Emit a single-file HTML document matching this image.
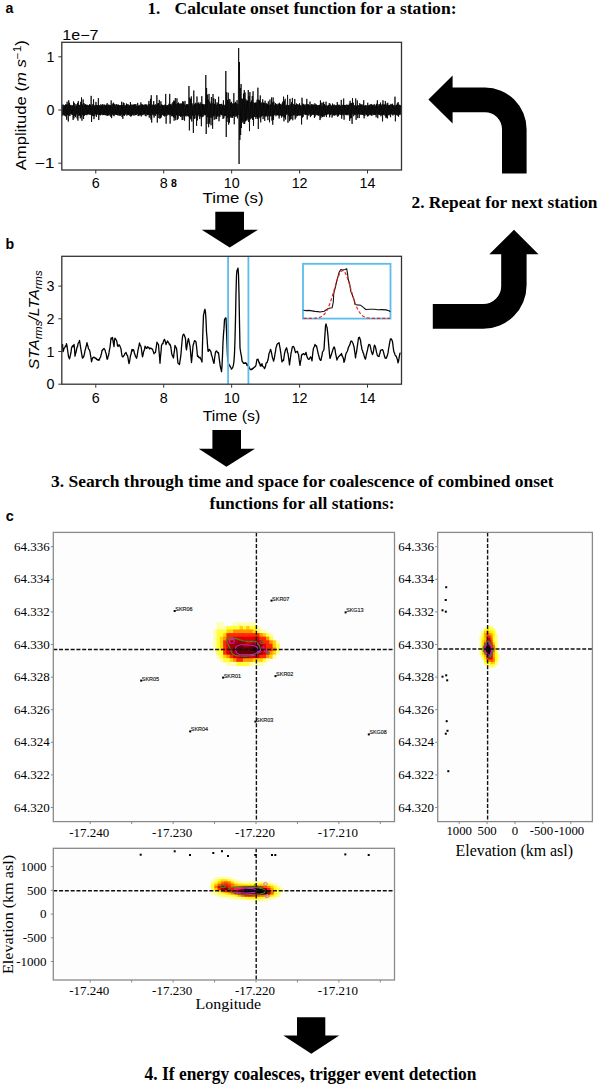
<!DOCTYPE html>
<html><head><meta charset="utf-8"><style>
html,body{margin:0;padding:0;background:#fff;width:600px;height:1086px;overflow:hidden}
svg{display:block}
</style></head><body>
<svg width="600" height="1086" viewBox="0 0 600 1086">
<rect width="600" height="1086" fill="#fff"/>
<rect x="53.3" y="532.4" width="341.2" height="289.20000000000005" fill="#fdfdfd"/>
<rect x="216.50" y="622.30" width="3.90" height="4.20" fill="#ffffb4"/>
<rect x="219.80" y="622.30" width="3.90" height="4.20" fill="#ffffb4"/>
<rect x="233.00" y="622.30" width="3.90" height="4.20" fill="#ffffb4"/>
<rect x="236.30" y="622.30" width="3.90" height="4.20" fill="#ffffb4"/>
<rect x="239.60" y="622.30" width="3.90" height="4.20" fill="#ffffb4"/>
<rect x="242.90" y="622.30" width="3.90" height="4.20" fill="#ffffb4"/>
<rect x="246.20" y="622.30" width="3.90" height="4.20" fill="#ffffb4"/>
<rect x="249.50" y="622.30" width="3.90" height="4.20" fill="#ffffb4"/>
<rect x="252.80" y="622.30" width="3.90" height="4.20" fill="#ffffb4"/>
<rect x="216.50" y="625.90" width="3.90" height="4.20" fill="#ffffb4"/>
<rect x="219.80" y="625.90" width="3.90" height="4.20" fill="#ffffb4"/>
<rect x="223.10" y="625.90" width="3.90" height="4.20" fill="#ffffb4"/>
<rect x="226.40" y="625.90" width="3.90" height="4.20" fill="#ffff3c"/>
<rect x="229.70" y="625.90" width="3.90" height="4.20" fill="#ffff3c"/>
<rect x="233.00" y="625.90" width="3.90" height="4.20" fill="#ffff3c"/>
<rect x="236.30" y="625.90" width="3.90" height="4.20" fill="#ffff3c"/>
<rect x="239.60" y="625.90" width="3.90" height="4.20" fill="#ffd200"/>
<rect x="242.90" y="625.90" width="3.90" height="4.20" fill="#ffff3c"/>
<rect x="246.20" y="625.90" width="3.90" height="4.20" fill="#ffd200"/>
<rect x="249.50" y="625.90" width="3.90" height="4.20" fill="#ffff3c"/>
<rect x="252.80" y="625.90" width="3.90" height="4.20" fill="#ffff3c"/>
<rect x="256.10" y="625.90" width="3.90" height="4.20" fill="#ffffb4"/>
<rect x="213.20" y="629.50" width="3.90" height="4.20" fill="#ffffb4"/>
<rect x="216.50" y="629.50" width="3.90" height="4.20" fill="#ffff3c"/>
<rect x="219.80" y="629.50" width="3.90" height="4.20" fill="#ffff3c"/>
<rect x="223.10" y="629.50" width="3.90" height="4.20" fill="#ffff3c"/>
<rect x="226.40" y="629.50" width="3.90" height="4.20" fill="#ffd200"/>
<rect x="229.70" y="629.50" width="3.90" height="4.20" fill="#ffd200"/>
<rect x="233.00" y="629.50" width="3.90" height="4.20" fill="#ff9400"/>
<rect x="236.30" y="629.50" width="3.90" height="4.20" fill="#ff9400"/>
<rect x="239.60" y="629.50" width="3.90" height="4.20" fill="#ff9400"/>
<rect x="242.90" y="629.50" width="3.90" height="4.20" fill="#ff9400"/>
<rect x="246.20" y="629.50" width="3.90" height="4.20" fill="#ff9400"/>
<rect x="249.50" y="629.50" width="3.90" height="4.20" fill="#ff9400"/>
<rect x="252.80" y="629.50" width="3.90" height="4.20" fill="#ffd200"/>
<rect x="256.10" y="629.50" width="3.90" height="4.20" fill="#ffff3c"/>
<rect x="259.40" y="629.50" width="3.90" height="4.20" fill="#ffffb4"/>
<rect x="262.70" y="629.50" width="3.90" height="4.20" fill="#ffffb4"/>
<rect x="213.20" y="633.10" width="3.90" height="4.20" fill="#ffffb4"/>
<rect x="216.50" y="633.10" width="3.90" height="4.20" fill="#ffff3c"/>
<rect x="219.80" y="633.10" width="3.90" height="4.20" fill="#ffff3c"/>
<rect x="223.10" y="633.10" width="3.90" height="4.20" fill="#ffd200"/>
<rect x="226.40" y="633.10" width="3.90" height="4.20" fill="#ff2a00"/>
<rect x="229.70" y="633.10" width="3.90" height="4.20" fill="#ff2a00"/>
<rect x="233.00" y="633.10" width="3.90" height="4.20" fill="#ff2a00"/>
<rect x="236.30" y="633.10" width="3.90" height="4.20" fill="#ff2a00"/>
<rect x="239.60" y="633.10" width="3.90" height="4.20" fill="#ff2a00"/>
<rect x="242.90" y="633.10" width="3.90" height="4.20" fill="#ff2a00"/>
<rect x="246.20" y="633.10" width="3.90" height="4.20" fill="#ff2a00"/>
<rect x="249.50" y="633.10" width="3.90" height="4.20" fill="#ff2a00"/>
<rect x="252.80" y="633.10" width="3.90" height="4.20" fill="#ff2a00"/>
<rect x="256.10" y="633.10" width="3.90" height="4.20" fill="#ff2a00"/>
<rect x="259.40" y="633.10" width="3.90" height="4.20" fill="#ff9400"/>
<rect x="262.70" y="633.10" width="3.90" height="4.20" fill="#ffd200"/>
<rect x="266.00" y="633.10" width="3.90" height="4.20" fill="#ffff3c"/>
<rect x="269.30" y="633.10" width="3.90" height="4.20" fill="#ffffb4"/>
<rect x="213.20" y="636.70" width="3.90" height="4.20" fill="#ffffb4"/>
<rect x="216.50" y="636.70" width="3.90" height="4.20" fill="#ffff3c"/>
<rect x="219.80" y="636.70" width="3.90" height="4.20" fill="#ffd200"/>
<rect x="223.10" y="636.70" width="3.90" height="4.20" fill="#ff9400"/>
<rect x="226.40" y="636.70" width="3.90" height="4.20" fill="#ff2a00"/>
<rect x="229.70" y="636.70" width="3.90" height="4.20" fill="#ff2a00"/>
<rect x="233.00" y="636.70" width="3.90" height="4.20" fill="#dc0000"/>
<rect x="236.30" y="636.70" width="3.90" height="4.20" fill="#dc0000"/>
<rect x="239.60" y="636.70" width="3.90" height="4.20" fill="#dc0000"/>
<rect x="242.90" y="636.70" width="3.90" height="4.20" fill="#dc0000"/>
<rect x="246.20" y="636.70" width="3.90" height="4.20" fill="#dc0000"/>
<rect x="249.50" y="636.70" width="3.90" height="4.20" fill="#dc0000"/>
<rect x="252.80" y="636.70" width="3.90" height="4.20" fill="#dc0000"/>
<rect x="256.10" y="636.70" width="3.90" height="4.20" fill="#dc0000"/>
<rect x="259.40" y="636.70" width="3.90" height="4.20" fill="#ff2a00"/>
<rect x="262.70" y="636.70" width="3.90" height="4.20" fill="#ff2a00"/>
<rect x="266.00" y="636.70" width="3.90" height="4.20" fill="#ff9400"/>
<rect x="269.30" y="636.70" width="3.90" height="4.20" fill="#ffff3c"/>
<rect x="213.20" y="640.30" width="3.90" height="4.20" fill="#ffffb4"/>
<rect x="216.50" y="640.30" width="3.90" height="4.20" fill="#ffff3c"/>
<rect x="219.80" y="640.30" width="3.90" height="4.20" fill="#ffd200"/>
<rect x="223.10" y="640.30" width="3.90" height="4.20" fill="#ff2a00"/>
<rect x="226.40" y="640.30" width="3.90" height="4.20" fill="#dc0000"/>
<rect x="229.70" y="640.30" width="3.90" height="4.20" fill="#a00000"/>
<rect x="233.00" y="640.30" width="3.90" height="4.20" fill="#a00000"/>
<rect x="236.30" y="640.30" width="3.90" height="4.20" fill="#a00000"/>
<rect x="239.60" y="640.30" width="3.90" height="4.20" fill="#a00000"/>
<rect x="242.90" y="640.30" width="3.90" height="4.20" fill="#a00000"/>
<rect x="246.20" y="640.30" width="3.90" height="4.20" fill="#dc0000"/>
<rect x="249.50" y="640.30" width="3.90" height="4.20" fill="#dc0000"/>
<rect x="252.80" y="640.30" width="3.90" height="4.20" fill="#a00000"/>
<rect x="256.10" y="640.30" width="3.90" height="4.20" fill="#a00000"/>
<rect x="259.40" y="640.30" width="3.90" height="4.20" fill="#dc0000"/>
<rect x="262.70" y="640.30" width="3.90" height="4.20" fill="#ff2a00"/>
<rect x="266.00" y="640.30" width="3.90" height="4.20" fill="#ff2a00"/>
<rect x="269.30" y="640.30" width="3.90" height="4.20" fill="#ff9400"/>
<rect x="272.60" y="640.30" width="3.90" height="4.20" fill="#ffd200"/>
<rect x="275.90" y="640.30" width="3.90" height="4.20" fill="#ffffb4"/>
<rect x="213.20" y="643.90" width="3.90" height="4.20" fill="#ffffb4"/>
<rect x="216.50" y="643.90" width="3.90" height="4.20" fill="#ffff3c"/>
<rect x="219.80" y="643.90" width="3.90" height="4.20" fill="#ffd200"/>
<rect x="223.10" y="643.90" width="3.90" height="4.20" fill="#ff2a00"/>
<rect x="226.40" y="643.90" width="3.90" height="4.20" fill="#dc0000"/>
<rect x="229.70" y="643.90" width="3.90" height="4.20" fill="#a00000"/>
<rect x="233.00" y="643.90" width="3.90" height="4.20" fill="#a00000"/>
<rect x="236.30" y="643.90" width="3.90" height="4.20" fill="#600000"/>
<rect x="239.60" y="643.90" width="3.90" height="4.20" fill="#600000"/>
<rect x="242.90" y="643.90" width="3.90" height="4.20" fill="#a00000"/>
<rect x="246.20" y="643.90" width="3.90" height="4.20" fill="#a00000"/>
<rect x="249.50" y="643.90" width="3.90" height="4.20" fill="#600000"/>
<rect x="252.80" y="643.90" width="3.90" height="4.20" fill="#600000"/>
<rect x="256.10" y="643.90" width="3.90" height="4.20" fill="#600000"/>
<rect x="259.40" y="643.90" width="3.90" height="4.20" fill="#a00000"/>
<rect x="262.70" y="643.90" width="3.90" height="4.20" fill="#dc0000"/>
<rect x="266.00" y="643.90" width="3.90" height="4.20" fill="#ff2a00"/>
<rect x="269.30" y="643.90" width="3.90" height="4.20" fill="#ff2a00"/>
<rect x="272.60" y="643.90" width="3.90" height="4.20" fill="#ffd200"/>
<rect x="275.90" y="643.90" width="3.90" height="4.20" fill="#ffff3c"/>
<rect x="213.20" y="647.50" width="3.90" height="4.20" fill="#ffffb4"/>
<rect x="216.50" y="647.50" width="3.90" height="4.20" fill="#ffff3c"/>
<rect x="219.80" y="647.50" width="3.90" height="4.20" fill="#ffd200"/>
<rect x="223.10" y="647.50" width="3.90" height="4.20" fill="#ff2a00"/>
<rect x="226.40" y="647.50" width="3.90" height="4.20" fill="#dc0000"/>
<rect x="229.70" y="647.50" width="3.90" height="4.20" fill="#a00000"/>
<rect x="233.00" y="647.50" width="3.90" height="4.20" fill="#600000"/>
<rect x="236.30" y="647.50" width="3.90" height="4.20" fill="#600000"/>
<rect x="239.60" y="647.50" width="3.90" height="4.20" fill="#600000"/>
<rect x="242.90" y="647.50" width="3.90" height="4.20" fill="#600000"/>
<rect x="246.20" y="647.50" width="3.90" height="4.20" fill="#600000"/>
<rect x="249.50" y="647.50" width="3.90" height="4.20" fill="#600000"/>
<rect x="252.80" y="647.50" width="3.90" height="4.20" fill="#240000"/>
<rect x="256.10" y="647.50" width="3.90" height="4.20" fill="#240000"/>
<rect x="259.40" y="647.50" width="3.90" height="4.20" fill="#600000"/>
<rect x="262.70" y="647.50" width="3.90" height="4.20" fill="#dc0000"/>
<rect x="266.00" y="647.50" width="3.90" height="4.20" fill="#ff2a00"/>
<rect x="269.30" y="647.50" width="3.90" height="4.20" fill="#ff2a00"/>
<rect x="272.60" y="647.50" width="3.90" height="4.20" fill="#ff9400"/>
<rect x="275.90" y="647.50" width="3.90" height="4.20" fill="#ffff3c"/>
<rect x="216.50" y="651.10" width="3.90" height="4.20" fill="#ffff3c"/>
<rect x="219.80" y="651.10" width="3.90" height="4.20" fill="#ffff3c"/>
<rect x="223.10" y="651.10" width="3.90" height="4.20" fill="#ff2a00"/>
<rect x="226.40" y="651.10" width="3.90" height="4.20" fill="#dc0000"/>
<rect x="229.70" y="651.10" width="3.90" height="4.20" fill="#a00000"/>
<rect x="233.00" y="651.10" width="3.90" height="4.20" fill="#a00000"/>
<rect x="236.30" y="651.10" width="3.90" height="4.20" fill="#600000"/>
<rect x="239.60" y="651.10" width="3.90" height="4.20" fill="#600000"/>
<rect x="242.90" y="651.10" width="3.90" height="4.20" fill="#600000"/>
<rect x="246.20" y="651.10" width="3.90" height="4.20" fill="#600000"/>
<rect x="249.50" y="651.10" width="3.90" height="4.20" fill="#600000"/>
<rect x="252.80" y="651.10" width="3.90" height="4.20" fill="#600000"/>
<rect x="256.10" y="651.10" width="3.90" height="4.20" fill="#600000"/>
<rect x="259.40" y="651.10" width="3.90" height="4.20" fill="#a00000"/>
<rect x="262.70" y="651.10" width="3.90" height="4.20" fill="#dc0000"/>
<rect x="266.00" y="651.10" width="3.90" height="4.20" fill="#ff2a00"/>
<rect x="269.30" y="651.10" width="3.90" height="4.20" fill="#ff9400"/>
<rect x="272.60" y="651.10" width="3.90" height="4.20" fill="#ffd200"/>
<rect x="275.90" y="651.10" width="3.90" height="4.20" fill="#ffffb4"/>
<rect x="216.50" y="654.70" width="3.90" height="4.20" fill="#ffffb4"/>
<rect x="219.80" y="654.70" width="3.90" height="4.20" fill="#ffff3c"/>
<rect x="223.10" y="654.70" width="3.90" height="4.20" fill="#ffd200"/>
<rect x="226.40" y="654.70" width="3.90" height="4.20" fill="#ff9400"/>
<rect x="229.70" y="654.70" width="3.90" height="4.20" fill="#ff2a00"/>
<rect x="233.00" y="654.70" width="3.90" height="4.20" fill="#dc0000"/>
<rect x="236.30" y="654.70" width="3.90" height="4.20" fill="#dc0000"/>
<rect x="239.60" y="654.70" width="3.90" height="4.20" fill="#a00000"/>
<rect x="242.90" y="654.70" width="3.90" height="4.20" fill="#a00000"/>
<rect x="246.20" y="654.70" width="3.90" height="4.20" fill="#a00000"/>
<rect x="249.50" y="654.70" width="3.90" height="4.20" fill="#dc0000"/>
<rect x="252.80" y="654.70" width="3.90" height="4.20" fill="#dc0000"/>
<rect x="256.10" y="654.70" width="3.90" height="4.20" fill="#dc0000"/>
<rect x="259.40" y="654.70" width="3.90" height="4.20" fill="#ff2a00"/>
<rect x="262.70" y="654.70" width="3.90" height="4.20" fill="#ff2a00"/>
<rect x="266.00" y="654.70" width="3.90" height="4.20" fill="#ff9400"/>
<rect x="269.30" y="654.70" width="3.90" height="4.20" fill="#ffd200"/>
<rect x="272.60" y="654.70" width="3.90" height="4.20" fill="#ffffb4"/>
<rect x="219.80" y="658.30" width="3.90" height="4.20" fill="#ffffb4"/>
<rect x="223.10" y="658.30" width="3.90" height="4.20" fill="#ffff3c"/>
<rect x="226.40" y="658.30" width="3.90" height="4.20" fill="#ffff3c"/>
<rect x="229.70" y="658.30" width="3.90" height="4.20" fill="#ffd200"/>
<rect x="233.00" y="658.30" width="3.90" height="4.20" fill="#ff9400"/>
<rect x="236.30" y="658.30" width="3.90" height="4.20" fill="#ff2a00"/>
<rect x="239.60" y="658.30" width="3.90" height="4.20" fill="#ff2a00"/>
<rect x="242.90" y="658.30" width="3.90" height="4.20" fill="#ff9400"/>
<rect x="246.20" y="658.30" width="3.90" height="4.20" fill="#ff9400"/>
<rect x="249.50" y="658.30" width="3.90" height="4.20" fill="#ff9400"/>
<rect x="252.80" y="658.30" width="3.90" height="4.20" fill="#ffd200"/>
<rect x="256.10" y="658.30" width="3.90" height="4.20" fill="#ffd200"/>
<rect x="259.40" y="658.30" width="3.90" height="4.20" fill="#ffd200"/>
<rect x="262.70" y="658.30" width="3.90" height="4.20" fill="#ffff3c"/>
<rect x="266.00" y="658.30" width="3.90" height="4.20" fill="#ffffb4"/>
<rect x="226.40" y="661.90" width="3.90" height="4.20" fill="#ffffb4"/>
<rect x="229.70" y="661.90" width="3.90" height="4.20" fill="#ffffb4"/>
<rect x="233.00" y="661.90" width="3.90" height="4.20" fill="#ffffb4"/>
<rect x="236.30" y="661.90" width="3.90" height="4.20" fill="#ffff3c"/>
<rect x="239.60" y="661.90" width="3.90" height="4.20" fill="#ffff3c"/>
<rect x="242.90" y="661.90" width="3.90" height="4.20" fill="#ffff3c"/>
<rect x="246.20" y="661.90" width="3.90" height="4.20" fill="#ffff3c"/>
<rect x="249.50" y="661.90" width="3.90" height="4.20" fill="#ffffb4"/>
<rect x="252.80" y="661.90" width="3.90" height="4.20" fill="#ffffb4"/>
<rect x="256.10" y="661.90" width="3.90" height="4.20" fill="#ffffb4"/>
<rect x="259.40" y="661.90" width="3.90" height="4.20" fill="#ffffb4"/>
<path d="M226.8,640 C227,637.5 229,637.6 231,637.8 C234,638 236.7,638.4 239,639.5 C242,641 246,641.6 249.5,641.6 C252,641.4 254.5,640.8 256.5,642 C258.5,644 260,647 260.5,649.5 C259.5,652 258,654 255.5,655 C251,656.4 246,656.2 241,656 C236,655.8 233,655.6 231.5,652.5 C230.5,650 229.5,647 228.5,645 C227.2,643.5 226.6,642 226.8,640 Z" fill="none" stroke="#4e7d2e" stroke-width="1.2"/>
<rect x="229.6" y="639.4" width="4.6" height="3.9" rx="1.5" fill="none" stroke="#d21ed0" stroke-width="1.1"/>
<path d="M235.5,648 C236.5,645.5 239,644.9 242,644.8 C246,644.7 250,644.9 253.5,645.5 C256.5,646.2 258.2,648.5 258,650.5 C257.5,653 255.5,654.2 252,654.5 C248,654.8 244,654.9 240,654.5 C236.8,654 235,651 235.5,648 Z" fill="none" stroke="#d21ed0" stroke-width="1.1"/>
<circle cx="256.8" cy="643.6" r="1.3" fill="none" stroke="#d21ed0" stroke-width="1"/>
<circle cx="261.8" cy="642.4" r="1.4" fill="none" stroke="#4e7d2e" stroke-width="1"/>
<circle cx="263" cy="648" r="1.2" fill="none" stroke="#d21ed0" stroke-width="1"/>
<circle cx="265.5" cy="651" r="1.2" fill="none" stroke="#d21ed0" stroke-width="1"/>
<circle cx="268" cy="653" r="1.4" fill="none" stroke="#4e7d2e" stroke-width="1"/>
<circle cx="260" cy="651.5" r="1.1" fill="none" stroke="#d21ed0" stroke-width="1"/>
<line x1="256.4" y1="532.4" x2="256.4" y2="821.6" stroke="#111" stroke-width="1.4" stroke-dasharray="4,1.78"/>
<line x1="53.3" y1="649.5" x2="394.5" y2="649.5" stroke="#111" stroke-width="1.4" stroke-dasharray="4,1.78"/>
<rect x="173.7" y="610.0" width="2" height="2" fill="#000"/>
<text x="175.3" y="610.9" font-family="'Liberation Sans', sans-serif" font-size="6.0" text-anchor="start" fill="#111" textLength="17.3" lengthAdjust="spacingAndGlyphs" stroke="#111" stroke-width="0.15">SKR06</text>
<rect x="270.5" y="599.6" width="2" height="2" fill="#000"/>
<text x="272.1" y="600.5" font-family="'Liberation Sans', sans-serif" font-size="6.0" text-anchor="start" fill="#111" textLength="17.3" lengthAdjust="spacingAndGlyphs" stroke="#111" stroke-width="0.15">SKR07</text>
<rect x="344.6" y="611.4" width="2" height="2" fill="#000"/>
<text x="346.2" y="612.3" font-family="'Liberation Sans', sans-serif" font-size="6.0" text-anchor="start" fill="#111" textLength="17.3" lengthAdjust="spacingAndGlyphs" stroke="#111" stroke-width="0.15">SKG13</text>
<rect x="140.2" y="679.6" width="2" height="2" fill="#000"/>
<text x="141.8" y="680.5" font-family="'Liberation Sans', sans-serif" font-size="6.0" text-anchor="start" fill="#111" textLength="17.3" lengthAdjust="spacingAndGlyphs" stroke="#111" stroke-width="0.15">SKR05</text>
<rect x="222.1" y="676.6" width="2" height="2" fill="#000"/>
<text x="223.7" y="677.5" font-family="'Liberation Sans', sans-serif" font-size="6.0" text-anchor="start" fill="#111" textLength="17.3" lengthAdjust="spacingAndGlyphs" stroke="#111" stroke-width="0.15">SKR01</text>
<rect x="274.5" y="675.1" width="2" height="2" fill="#000"/>
<text x="276.1" y="676.0" font-family="'Liberation Sans', sans-serif" font-size="6.0" text-anchor="start" fill="#111" textLength="17.3" lengthAdjust="spacingAndGlyphs" stroke="#111" stroke-width="0.15">SKR02</text>
<rect x="254.4" y="720.6" width="2" height="2" fill="#000"/>
<text x="256.0" y="721.5" font-family="'Liberation Sans', sans-serif" font-size="6.0" text-anchor="start" fill="#111" textLength="17.3" lengthAdjust="spacingAndGlyphs" stroke="#111" stroke-width="0.15">SKR03</text>
<rect x="189.2" y="730.4" width="2" height="2" fill="#000"/>
<text x="190.8" y="731.3" font-family="'Liberation Sans', sans-serif" font-size="6.0" text-anchor="start" fill="#111" textLength="17.3" lengthAdjust="spacingAndGlyphs" stroke="#111" stroke-width="0.15">SKR04</text>
<rect x="367.8" y="733.4" width="2" height="2" fill="#000"/>
<text x="369.4" y="734.3" font-family="'Liberation Sans', sans-serif" font-size="6.0" text-anchor="start" fill="#111" textLength="17.3" lengthAdjust="spacingAndGlyphs" stroke="#111" stroke-width="0.15">SKG08</text>
<rect x="53.3" y="532.4" width="341.2" height="289.20000000000005" fill="none" stroke="#8a8a8a" stroke-width="1.3"/>
<line x1="50.8" y1="546.70" x2="53.3" y2="546.70" stroke="#8a8a8a" stroke-width="1"/>
<text x="49.8" y="550.80" font-family="'Liberation Serif', serif" font-size="13" text-anchor="end" fill="#000" >64.336</text>
<line x1="50.8" y1="579.30" x2="53.3" y2="579.30" stroke="#8a8a8a" stroke-width="1"/>
<text x="49.8" y="583.40" font-family="'Liberation Serif', serif" font-size="13" text-anchor="end" fill="#000" >64.334</text>
<line x1="50.8" y1="611.90" x2="53.3" y2="611.90" stroke="#8a8a8a" stroke-width="1"/>
<text x="49.8" y="616.00" font-family="'Liberation Serif', serif" font-size="13" text-anchor="end" fill="#000" >64.332</text>
<line x1="50.8" y1="644.50" x2="53.3" y2="644.50" stroke="#8a8a8a" stroke-width="1"/>
<text x="49.8" y="648.60" font-family="'Liberation Serif', serif" font-size="13" text-anchor="end" fill="#000" >64.330</text>
<line x1="50.8" y1="677.10" x2="53.3" y2="677.10" stroke="#8a8a8a" stroke-width="1"/>
<text x="49.8" y="681.20" font-family="'Liberation Serif', serif" font-size="13" text-anchor="end" fill="#000" >64.328</text>
<line x1="50.8" y1="709.70" x2="53.3" y2="709.70" stroke="#8a8a8a" stroke-width="1"/>
<text x="49.8" y="713.80" font-family="'Liberation Serif', serif" font-size="13" text-anchor="end" fill="#000" >64.326</text>
<line x1="50.8" y1="742.30" x2="53.3" y2="742.30" stroke="#8a8a8a" stroke-width="1"/>
<text x="49.8" y="746.40" font-family="'Liberation Serif', serif" font-size="13" text-anchor="end" fill="#000" >64.324</text>
<line x1="50.8" y1="774.90" x2="53.3" y2="774.90" stroke="#8a8a8a" stroke-width="1"/>
<text x="49.8" y="779.00" font-family="'Liberation Serif', serif" font-size="13" text-anchor="end" fill="#000" >64.322</text>
<line x1="50.8" y1="807.50" x2="53.3" y2="807.50" stroke="#8a8a8a" stroke-width="1"/>
<text x="49.8" y="811.60" font-family="'Liberation Serif', serif" font-size="13" text-anchor="end" fill="#000" >64.320</text>
<line x1="90.20" y1="821.6" x2="90.20" y2="824.1" stroke="#8a8a8a" stroke-width="1"/>
<text x="89.20" y="836.8" font-family="'Liberation Serif', serif" font-size="13" text-anchor="middle" fill="#000" >-17.240</text>
<line x1="131.65" y1="821.6" x2="131.65" y2="824.1" stroke="#8a8a8a" stroke-width="1"/>
<line x1="173.10" y1="821.6" x2="173.10" y2="824.1" stroke="#8a8a8a" stroke-width="1"/>
<text x="172.10" y="836.8" font-family="'Liberation Serif', serif" font-size="13" text-anchor="middle" fill="#000" >-17.230</text>
<line x1="214.55" y1="821.6" x2="214.55" y2="824.1" stroke="#8a8a8a" stroke-width="1"/>
<line x1="256.00" y1="821.6" x2="256.00" y2="824.1" stroke="#8a8a8a" stroke-width="1"/>
<text x="255.00" y="836.8" font-family="'Liberation Serif', serif" font-size="13" text-anchor="middle" fill="#000" >-17.220</text>
<line x1="297.45" y1="821.6" x2="297.45" y2="824.1" stroke="#8a8a8a" stroke-width="1"/>
<line x1="338.90" y1="821.6" x2="338.90" y2="824.1" stroke="#8a8a8a" stroke-width="1"/>
<text x="337.90" y="836.8" font-family="'Liberation Serif', serif" font-size="13" text-anchor="middle" fill="#000" >-17.210</text>
<line x1="380.35" y1="821.6" x2="380.35" y2="824.1" stroke="#8a8a8a" stroke-width="1"/>
<rect x="437.7" y="532.4" width="154.7" height="289.20000000000005" fill="#fdfdfd"/>
<rect x="486.10" y="625.90" width="2.80" height="3.00" fill="#ffff7f"/>
<rect x="488.30" y="625.90" width="2.80" height="3.00" fill="#ffff66"/>
<rect x="490.50" y="625.90" width="2.80" height="3.00" fill="#ffff8c"/>
<rect x="483.90" y="628.30" width="2.80" height="3.00" fill="#ffff3c"/>
<rect x="486.10" y="628.30" width="2.80" height="3.00" fill="#ffff01"/>
<rect x="488.30" y="628.30" width="2.80" height="3.00" fill="#ffff1d"/>
<rect x="490.50" y="628.30" width="2.80" height="3.00" fill="#ffff3e"/>
<rect x="492.70" y="628.30" width="2.80" height="3.00" fill="#ffff78"/>
<rect x="481.70" y="630.70" width="2.80" height="3.00" fill="#ffff7a"/>
<rect x="483.90" y="630.70" width="2.80" height="3.00" fill="#ffd500"/>
<rect x="486.10" y="630.70" width="2.80" height="3.00" fill="#ff9f00"/>
<rect x="488.30" y="630.70" width="2.80" height="3.00" fill="#ffe200"/>
<rect x="490.50" y="630.70" width="2.80" height="3.00" fill="#ffee00"/>
<rect x="492.70" y="630.70" width="2.80" height="3.00" fill="#ffff21"/>
<rect x="481.70" y="633.10" width="2.80" height="3.00" fill="#ffff4b"/>
<rect x="483.90" y="633.10" width="2.80" height="3.00" fill="#ffa900"/>
<rect x="486.10" y="633.10" width="2.80" height="3.00" fill="#ff6100"/>
<rect x="488.30" y="633.10" width="2.80" height="3.00" fill="#ff9200"/>
<rect x="490.50" y="633.10" width="2.80" height="3.00" fill="#ffb400"/>
<rect x="492.70" y="633.10" width="2.80" height="3.00" fill="#fff900"/>
<rect x="494.90" y="633.10" width="2.80" height="3.00" fill="#ffff91"/>
<rect x="479.50" y="635.50" width="2.80" height="3.00" fill="#ffff9a"/>
<rect x="481.70" y="635.50" width="2.80" height="3.00" fill="#ffff18"/>
<rect x="483.90" y="635.50" width="2.80" height="3.00" fill="#ffb200"/>
<rect x="486.10" y="635.50" width="2.80" height="3.00" fill="#ff5100"/>
<rect x="488.30" y="635.50" width="2.80" height="3.00" fill="#ff2500"/>
<rect x="490.50" y="635.50" width="2.80" height="3.00" fill="#ff8500"/>
<rect x="492.70" y="635.50" width="2.80" height="3.00" fill="#ffff0c"/>
<rect x="494.90" y="635.50" width="2.80" height="3.00" fill="#ffff87"/>
<rect x="479.50" y="637.90" width="2.80" height="3.00" fill="#ffff89"/>
<rect x="481.70" y="637.90" width="2.80" height="3.00" fill="#fff600"/>
<rect x="483.90" y="637.90" width="2.80" height="3.00" fill="#ffc000"/>
<rect x="486.10" y="637.90" width="2.80" height="3.00" fill="#ff4400"/>
<rect x="488.30" y="637.90" width="2.80" height="3.00" fill="#c40000"/>
<rect x="490.50" y="637.90" width="2.80" height="3.00" fill="#ff6300"/>
<rect x="492.70" y="637.90" width="2.80" height="3.00" fill="#ffff26"/>
<rect x="494.90" y="637.90" width="2.80" height="3.00" fill="#ffff84"/>
<rect x="479.50" y="640.30" width="2.80" height="3.00" fill="#ffff83"/>
<rect x="481.70" y="640.30" width="2.80" height="3.00" fill="#ffe800"/>
<rect x="483.90" y="640.30" width="2.80" height="3.00" fill="#ff9300"/>
<rect x="486.10" y="640.30" width="2.80" height="3.00" fill="#ff0000"/>
<rect x="488.30" y="640.30" width="2.80" height="3.00" fill="#880000"/>
<rect x="490.50" y="640.30" width="2.80" height="3.00" fill="#ff3f00"/>
<rect x="492.70" y="640.30" width="2.80" height="3.00" fill="#ffff07"/>
<rect x="494.90" y="640.30" width="2.80" height="3.00" fill="#ffff7e"/>
<rect x="479.50" y="642.70" width="2.80" height="3.00" fill="#ffff85"/>
<rect x="481.70" y="642.70" width="2.80" height="3.00" fill="#ffdd00"/>
<rect x="483.90" y="642.70" width="2.80" height="3.00" fill="#ff1500"/>
<rect x="486.10" y="642.70" width="2.80" height="3.00" fill="#600000"/>
<rect x="488.30" y="642.70" width="2.80" height="3.00" fill="#650000"/>
<rect x="490.50" y="642.70" width="2.80" height="3.00" fill="#ff0400"/>
<rect x="492.70" y="642.70" width="2.80" height="3.00" fill="#ffbf00"/>
<rect x="494.90" y="642.70" width="2.80" height="3.00" fill="#ffff70"/>
<rect x="479.50" y="645.10" width="2.80" height="3.00" fill="#ffff88"/>
<rect x="481.70" y="645.10" width="2.80" height="3.00" fill="#ffd100"/>
<rect x="483.90" y="645.10" width="2.80" height="3.00" fill="#730000"/>
<rect x="486.10" y="645.10" width="2.80" height="3.00" fill="#000000"/>
<rect x="488.30" y="645.10" width="2.80" height="3.00" fill="#460000"/>
<rect x="490.50" y="645.10" width="2.80" height="3.00" fill="#b40000"/>
<rect x="492.70" y="645.10" width="2.80" height="3.00" fill="#ff6c00"/>
<rect x="494.90" y="645.10" width="2.80" height="3.00" fill="#ffff5e"/>
<rect x="479.50" y="647.50" width="2.80" height="3.00" fill="#ffff82"/>
<rect x="481.70" y="647.50" width="2.80" height="3.00" fill="#ffc200"/>
<rect x="483.90" y="647.50" width="2.80" height="3.00" fill="#400000"/>
<rect x="486.10" y="647.50" width="2.80" height="3.00" fill="#000000"/>
<rect x="488.30" y="647.50" width="2.80" height="3.00" fill="#000000"/>
<rect x="490.50" y="647.50" width="2.80" height="3.00" fill="#770000"/>
<rect x="492.70" y="647.50" width="2.80" height="3.00" fill="#ff4d00"/>
<rect x="494.90" y="647.50" width="2.80" height="3.00" fill="#ffff4e"/>
<rect x="479.50" y="649.90" width="2.80" height="3.00" fill="#ffff77"/>
<rect x="481.70" y="649.90" width="2.80" height="3.00" fill="#ffbc00"/>
<rect x="483.90" y="649.90" width="2.80" height="3.00" fill="#b70000"/>
<rect x="486.10" y="649.90" width="2.80" height="3.00" fill="#000000"/>
<rect x="488.30" y="649.90" width="2.80" height="3.00" fill="#000000"/>
<rect x="490.50" y="649.90" width="2.80" height="3.00" fill="#6e0000"/>
<rect x="492.70" y="649.90" width="2.80" height="3.00" fill="#ff7400"/>
<rect x="494.90" y="649.90" width="2.80" height="3.00" fill="#ffff3d"/>
<rect x="479.50" y="652.30" width="2.80" height="3.00" fill="#ffff7e"/>
<rect x="481.70" y="652.30" width="2.80" height="3.00" fill="#ffd500"/>
<rect x="483.90" y="652.30" width="2.80" height="3.00" fill="#ff5a00"/>
<rect x="486.10" y="652.30" width="2.80" height="3.00" fill="#560000"/>
<rect x="488.30" y="652.30" width="2.80" height="3.00" fill="#000000"/>
<rect x="490.50" y="652.30" width="2.80" height="3.00" fill="#8e0000"/>
<rect x="492.70" y="652.30" width="2.80" height="3.00" fill="#ffa700"/>
<rect x="494.90" y="652.30" width="2.80" height="3.00" fill="#ffff24"/>
<rect x="481.70" y="654.70" width="2.80" height="3.00" fill="#ffff12"/>
<rect x="483.90" y="654.70" width="2.80" height="3.00" fill="#ffb800"/>
<rect x="486.10" y="654.70" width="2.80" height="3.00" fill="#e50000"/>
<rect x="488.30" y="654.70" width="2.80" height="3.00" fill="#000000"/>
<rect x="490.50" y="654.70" width="2.80" height="3.00" fill="#b70000"/>
<rect x="492.70" y="654.70" width="2.80" height="3.00" fill="#ffaa00"/>
<rect x="494.90" y="654.70" width="2.80" height="3.00" fill="#ffff07"/>
<rect x="497.10" y="654.70" width="2.80" height="3.00" fill="#ffff92"/>
<rect x="481.70" y="657.10" width="2.80" height="3.00" fill="#ffff68"/>
<rect x="483.90" y="657.10" width="2.80" height="3.00" fill="#ffdf00"/>
<rect x="486.10" y="657.10" width="2.80" height="3.00" fill="#ff4700"/>
<rect x="488.30" y="657.10" width="2.80" height="3.00" fill="#c10000"/>
<rect x="490.50" y="657.10" width="2.80" height="3.00" fill="#f00000"/>
<rect x="492.70" y="657.10" width="2.80" height="3.00" fill="#ff8300"/>
<rect x="494.90" y="657.10" width="2.80" height="3.00" fill="#ffff04"/>
<rect x="497.10" y="657.10" width="2.80" height="3.00" fill="#ffff99"/>
<rect x="483.90" y="659.50" width="2.80" height="3.00" fill="#ffff0f"/>
<rect x="486.10" y="659.50" width="2.80" height="3.00" fill="#ffa400"/>
<rect x="488.30" y="659.50" width="2.80" height="3.00" fill="#ff8100"/>
<rect x="490.50" y="659.50" width="2.80" height="3.00" fill="#ff4e00"/>
<rect x="492.70" y="659.50" width="2.80" height="3.00" fill="#ff7f00"/>
<rect x="494.90" y="659.50" width="2.80" height="3.00" fill="#ffff2e"/>
<rect x="483.90" y="661.90" width="2.80" height="3.00" fill="#ffff6c"/>
<rect x="486.10" y="661.90" width="2.80" height="3.00" fill="#ffff10"/>
<rect x="488.30" y="661.90" width="2.80" height="3.00" fill="#ffff00"/>
<rect x="490.50" y="661.90" width="2.80" height="3.00" fill="#ffc600"/>
<rect x="492.70" y="661.90" width="2.80" height="3.00" fill="#ffd500"/>
<rect x="494.90" y="661.90" width="2.80" height="3.00" fill="#ffff74"/>
<rect x="486.10" y="664.30" width="2.80" height="3.00" fill="#ffff8c"/>
<rect x="488.30" y="664.30" width="2.80" height="3.00" fill="#ffff6c"/>
<rect x="490.50" y="664.30" width="2.80" height="3.00" fill="#ffff50"/>
<rect x="492.70" y="664.30" width="2.80" height="3.00" fill="#ffff6a"/>
<path d="M488.6,641 C490.5,643 492.3,645.5 492.6,648 C492.8,651.5 491.8,655 490.2,657.2 C488,656.8 485.5,654.5 484,651.8 C482.8,649.5 482.9,647.5 484.3,645.6 C485.6,643.7 487.2,642 488.6,641 Z" fill="none" stroke="#4e7d2e" stroke-width="1.3"/>
<path d="M488.5,643 C490.2,644.5 491.6,646.5 491.6,648.5 C491.6,651.3 491,653.8 489.8,655.6 C487.8,655 486,653.2 484.9,651 C484.2,649.2 484.6,647.3 485.7,645.9 C486.6,644.6 487.5,643.7 488.5,643 Z" fill="none" stroke="#d21ed0" stroke-width="1.1"/>
<line x1="487.6" y1="532.4" x2="487.6" y2="821.6" stroke="#111" stroke-width="1.4" stroke-dasharray="4,1.78"/>
<line x1="437.7" y1="649.0" x2="592.4" y2="649.0" stroke="#111" stroke-width="1.4" stroke-dasharray="4,1.78"/>
<rect x="445.2" y="586.2" width="2" height="2" fill="#000"/>
<rect x="444.7" y="599.0" width="2" height="2" fill="#000"/>
<rect x="441.5" y="609.3" width="2" height="2" fill="#000"/>
<rect x="444.8" y="610.7" width="2" height="2" fill="#000"/>
<rect x="441.5" y="675.7" width="2" height="2" fill="#000"/>
<rect x="445.2" y="674.3" width="2" height="2" fill="#000"/>
<rect x="446.2" y="679.3" width="2" height="2" fill="#000"/>
<rect x="445.7" y="720.2" width="2" height="2" fill="#000"/>
<rect x="446.5" y="729.8" width="2" height="2" fill="#000"/>
<rect x="444.8" y="732.7" width="2" height="2" fill="#000"/>
<rect x="447.3" y="770.2" width="2" height="2" fill="#000"/>
<rect x="437.7" y="532.4" width="154.7" height="289.20000000000005" fill="none" stroke="#8a8a8a" stroke-width="1.3"/>
<line x1="435.2" y1="546.70" x2="437.7" y2="546.70" stroke="#8a8a8a" stroke-width="1"/>
<text x="434.0" y="550.80" font-family="'Liberation Serif', serif" font-size="13" text-anchor="end" fill="#000" >64.336</text>
<line x1="435.2" y1="579.30" x2="437.7" y2="579.30" stroke="#8a8a8a" stroke-width="1"/>
<text x="434.0" y="583.40" font-family="'Liberation Serif', serif" font-size="13" text-anchor="end" fill="#000" >64.334</text>
<line x1="435.2" y1="611.90" x2="437.7" y2="611.90" stroke="#8a8a8a" stroke-width="1"/>
<text x="434.0" y="616.00" font-family="'Liberation Serif', serif" font-size="13" text-anchor="end" fill="#000" >64.332</text>
<line x1="435.2" y1="644.50" x2="437.7" y2="644.50" stroke="#8a8a8a" stroke-width="1"/>
<text x="434.0" y="648.60" font-family="'Liberation Serif', serif" font-size="13" text-anchor="end" fill="#000" >64.330</text>
<line x1="435.2" y1="677.10" x2="437.7" y2="677.10" stroke="#8a8a8a" stroke-width="1"/>
<text x="434.0" y="681.20" font-family="'Liberation Serif', serif" font-size="13" text-anchor="end" fill="#000" >64.328</text>
<line x1="435.2" y1="709.70" x2="437.7" y2="709.70" stroke="#8a8a8a" stroke-width="1"/>
<text x="434.0" y="713.80" font-family="'Liberation Serif', serif" font-size="13" text-anchor="end" fill="#000" >64.326</text>
<line x1="435.2" y1="742.30" x2="437.7" y2="742.30" stroke="#8a8a8a" stroke-width="1"/>
<text x="434.0" y="746.40" font-family="'Liberation Serif', serif" font-size="13" text-anchor="end" fill="#000" >64.324</text>
<line x1="435.2" y1="774.90" x2="437.7" y2="774.90" stroke="#8a8a8a" stroke-width="1"/>
<text x="434.0" y="779.00" font-family="'Liberation Serif', serif" font-size="13" text-anchor="end" fill="#000" >64.322</text>
<line x1="435.2" y1="807.50" x2="437.7" y2="807.50" stroke="#8a8a8a" stroke-width="1"/>
<text x="434.0" y="811.60" font-family="'Liberation Serif', serif" font-size="13" text-anchor="end" fill="#000" >64.320</text>
<line x1="459.20" y1="821.6" x2="459.20" y2="824.1" stroke="#8a8a8a" stroke-width="1"/>
<text x="459.20" y="834.6" font-family="'Liberation Serif', serif" font-size="12.8" text-anchor="middle" fill="#000" >1000</text>
<line x1="487.10" y1="821.6" x2="487.10" y2="824.1" stroke="#8a8a8a" stroke-width="1"/>
<text x="487.10" y="834.6" font-family="'Liberation Serif', serif" font-size="12.8" text-anchor="middle" fill="#000" >500</text>
<line x1="515.00" y1="821.6" x2="515.00" y2="824.1" stroke="#8a8a8a" stroke-width="1"/>
<text x="515.00" y="834.6" font-family="'Liberation Serif', serif" font-size="12.8" text-anchor="middle" fill="#000" >0</text>
<line x1="542.90" y1="821.6" x2="542.90" y2="824.1" stroke="#8a8a8a" stroke-width="1"/>
<text x="541.40" y="834.6" font-family="'Liberation Serif', serif" font-size="12.8" text-anchor="middle" fill="#000" >-500</text>
<line x1="570.80" y1="821.6" x2="570.80" y2="824.1" stroke="#8a8a8a" stroke-width="1"/>
<text x="569.30" y="834.6" font-family="'Liberation Serif', serif" font-size="12.8" text-anchor="middle" fill="#000" >-1000</text>
<text x="455.5" y="855.8" font-family="'Liberation Serif', serif" font-size="16" text-anchor="start" fill="#000" textLength="117.5" lengthAdjust="spacingAndGlyphs" >Elevation (km asl)</text>
<rect x="53.3" y="848.3" width="341.2" height="131.70000000000005" fill="#fdfdfd"/>
<rect x="214.30" y="877.00" width="3.90" height="2.80" fill="#ffffbd"/>
<rect x="217.60" y="877.00" width="3.90" height="2.80" fill="#ffff9d"/>
<rect x="220.90" y="877.00" width="3.90" height="2.80" fill="#ffff90"/>
<rect x="224.20" y="877.00" width="3.90" height="2.80" fill="#ffff9e"/>
<rect x="227.50" y="877.00" width="3.90" height="2.80" fill="#ffffb9"/>
<rect x="211.00" y="879.20" width="3.90" height="2.80" fill="#ffffc0"/>
<rect x="214.30" y="879.20" width="3.90" height="2.80" fill="#ffff78"/>
<rect x="217.60" y="879.20" width="3.90" height="2.80" fill="#ffff17"/>
<rect x="220.90" y="879.20" width="3.90" height="2.80" fill="#ffdf00"/>
<rect x="224.20" y="879.20" width="3.90" height="2.80" fill="#ffe300"/>
<rect x="227.50" y="879.20" width="3.90" height="2.80" fill="#ffff22"/>
<rect x="230.80" y="879.20" width="3.90" height="2.80" fill="#ffff7e"/>
<rect x="234.10" y="879.20" width="3.90" height="2.80" fill="#ffffbe"/>
<rect x="211.00" y="881.40" width="3.90" height="2.80" fill="#ffff8f"/>
<rect x="214.30" y="881.40" width="3.90" height="2.80" fill="#ffff31"/>
<rect x="217.60" y="881.40" width="3.90" height="2.80" fill="#ffca00"/>
<rect x="220.90" y="881.40" width="3.90" height="2.80" fill="#ff7400"/>
<rect x="224.20" y="881.40" width="3.90" height="2.80" fill="#ff4f00"/>
<rect x="227.50" y="881.40" width="3.90" height="2.80" fill="#ff7a00"/>
<rect x="230.80" y="881.40" width="3.90" height="2.80" fill="#ffd800"/>
<rect x="234.10" y="881.40" width="3.90" height="2.80" fill="#ffff48"/>
<rect x="237.40" y="881.40" width="3.90" height="2.80" fill="#ffff93"/>
<rect x="240.70" y="881.40" width="3.90" height="2.80" fill="#ffffb0"/>
<rect x="244.00" y="881.40" width="3.90" height="2.80" fill="#ffffb7"/>
<rect x="247.30" y="881.40" width="3.90" height="2.80" fill="#ffffb2"/>
<rect x="250.60" y="881.40" width="3.90" height="2.80" fill="#ffffa5"/>
<rect x="253.90" y="881.40" width="3.90" height="2.80" fill="#ffff95"/>
<rect x="257.20" y="881.40" width="3.90" height="2.80" fill="#ffff89"/>
<rect x="260.50" y="881.40" width="3.90" height="2.80" fill="#ffff89"/>
<rect x="263.80" y="881.40" width="3.90" height="2.80" fill="#ffff9c"/>
<rect x="267.10" y="881.40" width="3.90" height="2.80" fill="#ffffba"/>
<rect x="211.00" y="883.60" width="3.90" height="2.80" fill="#ffff32"/>
<rect x="214.30" y="883.60" width="3.90" height="2.80" fill="#ffbe00"/>
<rect x="217.60" y="883.60" width="3.90" height="2.80" fill="#ff6600"/>
<rect x="220.90" y="883.60" width="3.90" height="2.80" fill="#ff3000"/>
<rect x="224.20" y="883.60" width="3.90" height="2.80" fill="#ff2100"/>
<rect x="227.50" y="883.60" width="3.90" height="2.80" fill="#ff3c00"/>
<rect x="230.80" y="883.60" width="3.90" height="2.80" fill="#ff7a00"/>
<rect x="234.10" y="883.60" width="3.90" height="2.80" fill="#ffbb00"/>
<rect x="237.40" y="883.60" width="3.90" height="2.80" fill="#ffe000"/>
<rect x="240.70" y="883.60" width="3.90" height="2.80" fill="#ffec00"/>
<rect x="244.00" y="883.60" width="3.90" height="2.80" fill="#fff200"/>
<rect x="247.30" y="883.60" width="3.90" height="2.80" fill="#fffb00"/>
<rect x="250.60" y="883.60" width="3.90" height="2.80" fill="#ffff03"/>
<rect x="253.90" y="883.60" width="3.90" height="2.80" fill="#fffb00"/>
<rect x="257.20" y="883.60" width="3.90" height="2.80" fill="#ffea00"/>
<rect x="260.50" y="883.60" width="3.90" height="2.80" fill="#ffd900"/>
<rect x="263.80" y="883.60" width="3.90" height="2.80" fill="#ffe000"/>
<rect x="267.10" y="883.60" width="3.90" height="2.80" fill="#ffff0d"/>
<rect x="270.40" y="883.60" width="3.90" height="2.80" fill="#ffff62"/>
<rect x="273.70" y="883.60" width="3.90" height="2.80" fill="#ffffac"/>
<rect x="211.00" y="885.80" width="3.90" height="2.80" fill="#ffff17"/>
<rect x="214.30" y="885.80" width="3.90" height="2.80" fill="#ff7700"/>
<rect x="217.60" y="885.80" width="3.90" height="2.80" fill="#df0000"/>
<rect x="220.90" y="885.80" width="3.90" height="2.80" fill="#990000"/>
<rect x="224.20" y="885.80" width="3.90" height="2.80" fill="#c30000"/>
<rect x="227.50" y="885.80" width="3.90" height="2.80" fill="#ff2000"/>
<rect x="230.80" y="885.80" width="3.90" height="2.80" fill="#ff6700"/>
<rect x="234.10" y="885.80" width="3.90" height="2.80" fill="#ff7c00"/>
<rect x="237.40" y="885.80" width="3.90" height="2.80" fill="#ff5a00"/>
<rect x="240.70" y="885.80" width="3.90" height="2.80" fill="#ff1100"/>
<rect x="244.00" y="885.80" width="3.90" height="2.80" fill="#c30000"/>
<rect x="247.30" y="885.80" width="3.90" height="2.80" fill="#9f0000"/>
<rect x="250.60" y="885.80" width="3.90" height="2.80" fill="#b00000"/>
<rect x="253.90" y="885.80" width="3.90" height="2.80" fill="#e00000"/>
<rect x="257.20" y="885.80" width="3.90" height="2.80" fill="#ff1000"/>
<rect x="260.50" y="885.80" width="3.90" height="2.80" fill="#ff3200"/>
<rect x="263.80" y="885.80" width="3.90" height="2.80" fill="#ff5000"/>
<rect x="267.10" y="885.80" width="3.90" height="2.80" fill="#ff8200"/>
<rect x="270.40" y="885.80" width="3.90" height="2.80" fill="#ffcf00"/>
<rect x="273.70" y="885.80" width="3.90" height="2.80" fill="#ffff37"/>
<rect x="277.00" y="885.80" width="3.90" height="2.80" fill="#ffff99"/>
<rect x="211.00" y="888.00" width="3.90" height="2.80" fill="#ffff64"/>
<rect x="214.30" y="888.00" width="3.90" height="2.80" fill="#ffc900"/>
<rect x="217.60" y="888.00" width="3.90" height="2.80" fill="#ff2400"/>
<rect x="220.90" y="888.00" width="3.90" height="2.80" fill="#970000"/>
<rect x="224.20" y="888.00" width="3.90" height="2.80" fill="#750000"/>
<rect x="227.50" y="888.00" width="3.90" height="2.80" fill="#b70000"/>
<rect x="230.80" y="888.00" width="3.90" height="2.80" fill="#ff0d00"/>
<rect x="234.10" y="888.00" width="3.90" height="2.80" fill="#ff3100"/>
<rect x="237.40" y="888.00" width="3.90" height="2.80" fill="#ff0e00"/>
<rect x="240.70" y="888.00" width="3.90" height="2.80" fill="#990000"/>
<rect x="244.00" y="888.00" width="3.90" height="2.80" fill="#000000"/>
<rect x="247.30" y="888.00" width="3.90" height="2.80" fill="#000000"/>
<rect x="250.60" y="888.00" width="3.90" height="2.80" fill="#000000"/>
<rect x="253.90" y="888.00" width="3.90" height="2.80" fill="#000000"/>
<rect x="257.20" y="888.00" width="3.90" height="2.80" fill="#000000"/>
<rect x="260.50" y="888.00" width="3.90" height="2.80" fill="#000000"/>
<rect x="263.80" y="888.00" width="3.90" height="2.80" fill="#7d0000"/>
<rect x="267.10" y="888.00" width="3.90" height="2.80" fill="#ff2000"/>
<rect x="270.40" y="888.00" width="3.90" height="2.80" fill="#ff9d00"/>
<rect x="273.70" y="888.00" width="3.90" height="2.80" fill="#ffff00"/>
<rect x="277.00" y="888.00" width="3.90" height="2.80" fill="#ffff6e"/>
<rect x="280.30" y="888.00" width="3.90" height="2.80" fill="#ffffb5"/>
<rect x="211.00" y="890.20" width="3.90" height="2.80" fill="#ffff9f"/>
<rect x="214.30" y="890.20" width="3.90" height="2.80" fill="#ffff4c"/>
<rect x="217.60" y="890.20" width="3.90" height="2.80" fill="#ffde00"/>
<rect x="220.90" y="890.20" width="3.90" height="2.80" fill="#ff7900"/>
<rect x="224.20" y="890.20" width="3.90" height="2.80" fill="#ff2300"/>
<rect x="227.50" y="890.20" width="3.90" height="2.80" fill="#ef0000"/>
<rect x="230.80" y="890.20" width="3.90" height="2.80" fill="#d40000"/>
<rect x="234.10" y="890.20" width="3.90" height="2.80" fill="#b50000"/>
<rect x="237.40" y="890.20" width="3.90" height="2.80" fill="#880000"/>
<rect x="240.70" y="890.20" width="3.90" height="2.80" fill="#4a0000"/>
<rect x="244.00" y="890.20" width="3.90" height="2.80" fill="#000000"/>
<rect x="247.30" y="890.20" width="3.90" height="2.80" fill="#000000"/>
<rect x="250.60" y="890.20" width="3.90" height="2.80" fill="#000000"/>
<rect x="253.90" y="890.20" width="3.90" height="2.80" fill="#000000"/>
<rect x="257.20" y="890.20" width="3.90" height="2.80" fill="#000000"/>
<rect x="260.50" y="890.20" width="3.90" height="2.80" fill="#000000"/>
<rect x="263.80" y="890.20" width="3.90" height="2.80" fill="#000000"/>
<rect x="267.10" y="890.20" width="3.90" height="2.80" fill="#7e0000"/>
<rect x="270.40" y="890.20" width="3.90" height="2.80" fill="#ff6900"/>
<rect x="273.70" y="890.20" width="3.90" height="2.80" fill="#ffff02"/>
<rect x="277.00" y="890.20" width="3.90" height="2.80" fill="#ffff7e"/>
<rect x="280.30" y="890.20" width="3.90" height="2.80" fill="#ffffbd"/>
<rect x="211.00" y="892.40" width="3.90" height="2.80" fill="#ffffbf"/>
<rect x="214.30" y="892.40" width="3.90" height="2.80" fill="#ffff91"/>
<rect x="217.60" y="892.40" width="3.90" height="2.80" fill="#ffff60"/>
<rect x="220.90" y="892.40" width="3.90" height="2.80" fill="#ffff2e"/>
<rect x="224.20" y="892.40" width="3.90" height="2.80" fill="#fff700"/>
<rect x="227.50" y="892.40" width="3.90" height="2.80" fill="#ffc300"/>
<rect x="230.80" y="892.40" width="3.90" height="2.80" fill="#ff7a00"/>
<rect x="234.10" y="892.40" width="3.90" height="2.80" fill="#ff1a00"/>
<rect x="237.40" y="892.40" width="3.90" height="2.80" fill="#ac0000"/>
<rect x="240.70" y="892.40" width="3.90" height="2.80" fill="#510000"/>
<rect x="244.00" y="892.40" width="3.90" height="2.80" fill="#270000"/>
<rect x="247.30" y="892.40" width="3.90" height="2.80" fill="#2f0000"/>
<rect x="250.60" y="892.40" width="3.90" height="2.80" fill="#460000"/>
<rect x="253.90" y="892.40" width="3.90" height="2.80" fill="#400000"/>
<rect x="257.20" y="892.40" width="3.90" height="2.80" fill="#140000"/>
<rect x="260.50" y="892.40" width="3.90" height="2.80" fill="#000000"/>
<rect x="263.80" y="892.40" width="3.90" height="2.80" fill="#130000"/>
<rect x="267.10" y="892.40" width="3.90" height="2.80" fill="#a10000"/>
<rect x="270.40" y="892.40" width="3.90" height="2.80" fill="#ff5f00"/>
<rect x="273.70" y="892.40" width="3.90" height="2.80" fill="#fffc00"/>
<rect x="277.00" y="892.40" width="3.90" height="2.80" fill="#ffff8b"/>
<rect x="217.60" y="894.60" width="3.90" height="2.80" fill="#ffffa9"/>
<rect x="220.90" y="894.60" width="3.90" height="2.80" fill="#ffff90"/>
<rect x="224.20" y="894.60" width="3.90" height="2.80" fill="#ffff7e"/>
<rect x="227.50" y="894.60" width="3.90" height="2.80" fill="#ffff69"/>
<rect x="230.80" y="894.60" width="3.90" height="2.80" fill="#ffff41"/>
<rect x="234.10" y="894.60" width="3.90" height="2.80" fill="#fffa00"/>
<rect x="237.40" y="894.60" width="3.90" height="2.80" fill="#ffb200"/>
<rect x="240.70" y="894.60" width="3.90" height="2.80" fill="#ff6200"/>
<rect x="244.00" y="894.60" width="3.90" height="2.80" fill="#ff2200"/>
<rect x="247.30" y="894.60" width="3.90" height="2.80" fill="#ff0a00"/>
<rect x="250.60" y="894.60" width="3.90" height="2.80" fill="#ff1900"/>
<rect x="253.90" y="894.60" width="3.90" height="2.80" fill="#ff3c00"/>
<rect x="257.20" y="894.60" width="3.90" height="2.80" fill="#ff5b00"/>
<rect x="260.50" y="894.60" width="3.90" height="2.80" fill="#ff7000"/>
<rect x="263.80" y="894.60" width="3.90" height="2.80" fill="#ff8400"/>
<rect x="267.10" y="894.60" width="3.90" height="2.80" fill="#ffad00"/>
<rect x="270.40" y="894.60" width="3.90" height="2.80" fill="#fff000"/>
<rect x="273.70" y="894.60" width="3.90" height="2.80" fill="#ffff57"/>
<rect x="277.00" y="894.60" width="3.90" height="2.80" fill="#ffffab"/>
<rect x="227.50" y="896.80" width="3.90" height="2.80" fill="#ffffb8"/>
<rect x="230.80" y="896.80" width="3.90" height="2.80" fill="#ffffac"/>
<rect x="234.10" y="896.80" width="3.90" height="2.80" fill="#ffff9e"/>
<rect x="237.40" y="896.80" width="3.90" height="2.80" fill="#ffff87"/>
<rect x="240.70" y="896.80" width="3.90" height="2.80" fill="#ffff65"/>
<rect x="244.00" y="896.80" width="3.90" height="2.80" fill="#ffff39"/>
<rect x="247.30" y="896.80" width="3.90" height="2.80" fill="#ffff0f"/>
<rect x="250.60" y="896.80" width="3.90" height="2.80" fill="#fff600"/>
<rect x="253.90" y="896.80" width="3.90" height="2.80" fill="#fff000"/>
<rect x="257.20" y="896.80" width="3.90" height="2.80" fill="#fffb00"/>
<rect x="260.50" y="896.80" width="3.90" height="2.80" fill="#ffff1f"/>
<rect x="263.80" y="896.80" width="3.90" height="2.80" fill="#ffff4f"/>
<rect x="267.10" y="896.80" width="3.90" height="2.80" fill="#ffff7f"/>
<rect x="270.40" y="896.80" width="3.90" height="2.80" fill="#ffffa6"/>
<rect x="250.60" y="899.00" width="3.90" height="2.80" fill="#ffffbe"/>
<rect x="253.90" y="899.00" width="3.90" height="2.80" fill="#ffffb3"/>
<rect x="257.20" y="899.00" width="3.90" height="2.80" fill="#ffffab"/>
<rect x="260.50" y="899.00" width="3.90" height="2.80" fill="#ffffad"/>
<rect x="263.80" y="899.00" width="3.90" height="2.80" fill="#ffffbc"/>
<path d="M229.3,888.5 C233,886.5 240,886.8 247,887 C253,887.2 258.5,887.4 262,888.5 C265,889.7 265.8,891.5 264,893 C260,894.5 252,894.5 246,894.2 C240,894 235,893.6 231.5,892 C229.5,890.8 228.5,889.6 229.3,888.5 Z" fill="none" stroke="#4e7d2e" stroke-width="1.3"/>
<ellipse cx="223" cy="886.3" rx="2.6" ry="1.3" fill="none" stroke="#4e7d2e" stroke-width="1.2"/>
<path d="M234.3,889.6 C238,888 245,888.2 250,888.4 C254,888.6 256.8,889.5 256.8,891 C256.5,892.5 252,893 247,893 C241,893 236,892.6 234.5,891.4 C233.8,890.8 233.9,890.1 234.3,889.6 Z" fill="none" stroke="#d21ed0" stroke-width="1.1"/>
<ellipse cx="265.5" cy="884" rx="1.7999999999999998" ry="1.5" fill="none" stroke="#d070e0" stroke-width="1"/>
<ellipse cx="266.8" cy="896.3" rx="1.7999999999999998" ry="1.5" fill="none" stroke="#d070e0" stroke-width="1"/>
<ellipse cx="255.6" cy="885.5" rx="1.44" ry="1.2" fill="none" stroke="#4e7d2e" stroke-width="1"/>
<ellipse cx="260.5" cy="887.3" rx="1.32" ry="1.1" fill="none" stroke="#4e7d2e" stroke-width="1"/>
<line x1="256.2" y1="848.3" x2="256.2" y2="980.0" stroke="#111" stroke-width="1.4" stroke-dasharray="4,1.78"/>
<line x1="53.3" y1="890.8" x2="394.5" y2="890.8" stroke="#111" stroke-width="1.4" stroke-dasharray="4,1.78"/>
<rect x="139.7" y="853.7" width="2" height="2" fill="#000"/>
<rect x="173.7" y="850.3" width="2" height="2" fill="#000"/>
<rect x="189.0" y="854.0" width="2" height="2" fill="#000"/>
<rect x="212.3" y="852.0" width="2" height="2" fill="#000"/>
<rect x="221.0" y="850.2" width="2" height="2" fill="#000"/>
<rect x="227.0" y="855.0" width="2" height="2" fill="#000"/>
<rect x="254.3" y="854.0" width="2" height="2" fill="#000"/>
<rect x="271.0" y="854.0" width="2" height="2" fill="#000"/>
<rect x="274.3" y="854.0" width="2" height="2" fill="#000"/>
<rect x="344.3" y="853.4" width="2" height="2" fill="#000"/>
<rect x="367.7" y="854.0" width="2" height="2" fill="#000"/>
<rect x="53.3" y="848.3" width="341.2" height="131.70000000000005" fill="none" stroke="#8a8a8a" stroke-width="1.3"/>
<line x1="50.8" y1="866.66" x2="53.3" y2="866.66" stroke="#8a8a8a" stroke-width="1"/>
<text x="46.6" y="870.96" font-family="'Liberation Serif', serif" font-size="13" text-anchor="end" fill="#000" >1000</text>
<line x1="50.8" y1="890.38" x2="53.3" y2="890.38" stroke="#8a8a8a" stroke-width="1"/>
<text x="46.6" y="894.68" font-family="'Liberation Serif', serif" font-size="13" text-anchor="end" fill="#000" >500</text>
<line x1="50.8" y1="914.10" x2="53.3" y2="914.10" stroke="#8a8a8a" stroke-width="1"/>
<text x="46.6" y="918.40" font-family="'Liberation Serif', serif" font-size="13" text-anchor="end" fill="#000" >0</text>
<line x1="50.8" y1="937.82" x2="53.3" y2="937.82" stroke="#8a8a8a" stroke-width="1"/>
<text x="46.6" y="942.12" font-family="'Liberation Serif', serif" font-size="13" text-anchor="end" fill="#000" >-500</text>
<line x1="50.8" y1="961.54" x2="53.3" y2="961.54" stroke="#8a8a8a" stroke-width="1"/>
<text x="46.6" y="965.84" font-family="'Liberation Serif', serif" font-size="13" text-anchor="end" fill="#000" >-1000</text>
<line x1="90.20" y1="980.0" x2="90.20" y2="982.5" stroke="#8a8a8a" stroke-width="1"/>
<text x="89.20" y="995.0" font-family="'Liberation Serif', serif" font-size="13" text-anchor="middle" fill="#000" >-17.240</text>
<line x1="131.65" y1="980.0" x2="131.65" y2="982.5" stroke="#8a8a8a" stroke-width="1"/>
<line x1="173.10" y1="980.0" x2="173.10" y2="982.5" stroke="#8a8a8a" stroke-width="1"/>
<text x="172.10" y="995.0" font-family="'Liberation Serif', serif" font-size="13" text-anchor="middle" fill="#000" >-17.230</text>
<line x1="214.55" y1="980.0" x2="214.55" y2="982.5" stroke="#8a8a8a" stroke-width="1"/>
<line x1="256.00" y1="980.0" x2="256.00" y2="982.5" stroke="#8a8a8a" stroke-width="1"/>
<text x="255.00" y="995.0" font-family="'Liberation Serif', serif" font-size="13" text-anchor="middle" fill="#000" >-17.220</text>
<line x1="297.45" y1="980.0" x2="297.45" y2="982.5" stroke="#8a8a8a" stroke-width="1"/>
<line x1="338.90" y1="980.0" x2="338.90" y2="982.5" stroke="#8a8a8a" stroke-width="1"/>
<text x="337.90" y="995.0" font-family="'Liberation Serif', serif" font-size="13" text-anchor="middle" fill="#000" >-17.210</text>
<line x1="380.35" y1="980.0" x2="380.35" y2="982.5" stroke="#8a8a8a" stroke-width="1"/>
<text x="195.6" y="1009.4" font-family="'Liberation Serif', serif" font-size="15" text-anchor="start" fill="#000" textLength="65.5" lengthAdjust="spacingAndGlyphs" >Longitude</text>
<text transform="translate(12.6,974) rotate(-90)" font-family="'Liberation Serif', serif" font-size="15.5" textLength="119" lengthAdjust="spacingAndGlyphs">Elevation (km asl)</text>
<text x="5.6" y="12.8" font-family="'Liberation Sans', sans-serif" font-size="14.2" font-weight="bold" font-style="normal" text-anchor="start" fill="#000" >a</text>
<text x="5.4" y="249.0" font-family="'Liberation Sans', sans-serif" font-size="14.2" font-weight="bold" font-style="normal" text-anchor="start" fill="#000" >b</text>
<text x="5.7" y="520.9" font-family="'Liberation Sans', sans-serif" font-size="14.4" font-weight="bold" font-style="normal" text-anchor="start" fill="#000" >c</text>
<text x="147.6" y="14" font-family="'Liberation Serif', serif" font-size="17" font-weight="bold" font-style="normal" text-anchor="start" fill="#000" >1.</text>
<text x="174.5" y="14" font-family="'Liberation Serif', serif" font-size="17" font-weight="bold" font-style="normal" text-anchor="start" fill="#000" textLength="282" lengthAdjust="spacingAndGlyphs" >Calculate onset function for a station:</text>
<text x="411.5" y="208.2" font-family="'Liberation Serif', serif" font-size="17" font-weight="bold" font-style="normal" text-anchor="start" fill="#000" textLength="186" lengthAdjust="spacingAndGlyphs" >2. Repeat for next station</text>
<text x="51" y="487.4" font-family="'Liberation Serif', serif" font-size="17" font-weight="bold" font-style="normal" text-anchor="start" fill="#000" textLength="502.5" lengthAdjust="spacingAndGlyphs" >3. Search through time and space for coalescence of combined onset</text>
<text x="209.6" y="508.5" font-family="'Liberation Serif', serif" font-size="17" font-weight="bold" font-style="normal" text-anchor="start" fill="#000" textLength="185" lengthAdjust="spacingAndGlyphs" >functions for all stations:</text>
<text x="144.5" y="1080.2" font-family="'Liberation Serif', serif" font-size="18" font-weight="bold" font-style="normal" text-anchor="start" fill="#000" textLength="332" lengthAdjust="spacingAndGlyphs" >4. If energy coalesces, trigger event detection</text>
<path d="M428.4,99.6 L452.6,75.4 L452.6,87.6 L485,87.6 A41.6,41.6 0 0 1 526.6,129.2 L526.6,173.6 L502,173.6 L502,129.2 A17,17 0 0 0 485,112.2 L452.6,112.2 L452.6,123.6 Z" fill="#000"/>
<path d="M514,229.8 L538.5,254.3 L526.6,254.3 L526.6,285.3 A43.4,43.4 0 0 1 483.2,328.7 L432.8,328.7 L432.8,304 L483.2,304 A18,18 0 0 0 501.2,286 L501.2,254.3 L489.3,254.3 Z" fill="#000"/>
<path d="M215.3,211.7 L244,211.7 L244,229.8 L258,229.8 L229.7,247.6 L201.7,229.8 L215.3,229.8 Z" fill="#000"/>
<path d="M212.4,430.1 L241,430.1 L241,448.7 L255,448.7 L226.4,466.7 L198.7,448.7 L212.4,448.7 Z" fill="#000"/>
<path d="M297,1017.2 L325.3,1017.2 L325.3,1035.5 L339.2,1035.5 L311.3,1053.8 L283.3,1035.5 L297,1035.5 Z" fill="#000"/>
<polyline points="62.30,104.85 62.70,115.68 63.10,104.56 63.50,114.62 63.90,105.49 64.30,115.63 64.70,105.21 65.11,115.53 65.51,104.52 65.91,116.59 66.31,104.40 66.71,119.78 67.11,101.69 67.51,115.05 67.91,104.41 68.31,121.52 68.71,100.20 69.11,115.47 69.51,102.82 69.92,116.10 70.32,105.02 70.72,114.23 71.12,104.88 71.52,114.35 71.92,106.01 72.32,114.93 72.72,105.17 73.12,119.98 73.52,101.52 73.92,118.38 74.32,102.88 74.73,116.04 75.13,106.06 75.53,117.12 75.93,103.95 76.33,114.48 76.73,105.36 77.13,118.38 77.53,102.88 77.93,120.62 78.33,100.97 78.73,115.65 79.13,105.08 79.54,115.58 79.94,104.83 80.34,118.36 80.74,101.85 81.14,116.92 81.54,97.38 81.94,120.73 82.34,104.44 82.74,115.09 83.14,99.40 83.54,119.01 83.94,103.13 84.35,115.91 84.75,104.48 85.15,114.69 85.55,104.16 85.95,115.08 86.35,104.89 86.75,115.17 87.15,104.75 87.55,114.46 87.95,105.22 88.35,114.39 88.75,105.29 89.16,114.11 89.56,104.18 89.96,115.01 90.36,104.76 90.76,114.51 91.16,95.87 91.56,122.01 91.96,105.56 92.36,115.58 92.76,104.23 93.16,116.07 93.56,99.28 93.97,119.12 94.37,105.70 94.77,115.92 95.17,104.97 95.57,114.27 95.97,101.88 96.37,116.91 96.77,104.96 97.17,114.79 97.57,105.27 97.97,114.39 98.37,98.16 98.78,120.06 99.18,105.16 99.58,114.99 99.98,105.45 100.38,115.39 100.78,104.35 101.18,114.80 101.58,105.33 101.98,114.16 102.38,104.18 102.78,115.21 103.18,105.24 103.59,114.95 103.99,104.37 104.39,114.79 104.79,104.92 105.19,115.26 105.59,105.38 105.99,114.94 106.39,104.58 106.79,115.70 107.19,103.16 107.59,115.81 107.99,105.11 108.40,115.40 108.80,104.49 109.20,114.68 109.60,105.26 110.00,115.63 110.40,105.22 110.80,116.72 111.20,100.43 111.60,118.13 112.00,104.66 112.40,114.54 112.80,103.53 113.21,115.50 113.61,102.70 114.01,116.21 114.41,104.22 114.81,115.04 115.21,105.41 115.61,114.45 116.01,104.21 116.41,114.92 116.81,104.16 117.21,114.97 117.61,105.06 118.02,115.68 118.42,104.62 118.82,115.06 119.22,105.24 119.62,115.64 120.02,105.20 120.42,115.73 120.82,105.13 121.22,114.76 121.62,101.79 122.02,116.98 122.42,105.08 122.83,118.86 123.23,102.47 123.63,115.33 124.03,103.02 124.43,115.93 124.83,105.05 125.23,114.70 125.63,105.68 126.03,114.02 126.43,103.55 126.83,115.72 127.23,104.43 127.64,114.73 128.04,104.30 128.44,114.86 128.84,104.91 129.24,115.21 129.64,105.48 130.04,115.81 130.44,102.12 130.84,116.69 131.24,104.50 131.64,115.83 132.04,105.04 132.44,114.73 132.85,104.58 133.25,115.52 133.65,104.65 134.05,114.55 134.45,104.29 134.85,115.50 135.25,104.35 135.65,114.95 136.05,104.28 136.45,114.86 136.85,105.88 137.25,113.97 137.66,102.88 138.06,116.05 138.46,105.70 138.86,116.06 139.26,104.85 139.66,115.09 140.06,105.67 140.46,115.26 140.86,102.41 141.26,116.45 141.66,104.22 142.06,114.99 142.47,104.47 142.87,115.23 143.27,104.86 143.67,114.37 144.07,104.93 144.47,114.31 144.87,104.48 145.27,115.84 145.67,104.37 146.07,116.27 146.47,104.67 146.87,114.58 147.28,105.82 147.68,115.20 148.08,104.46 148.48,114.71 148.88,100.91 149.28,117.73 149.68,104.13 150.08,115.49 150.48,98.85 150.88,119.48 151.28,95.22 151.68,122.57 152.09,104.80 152.49,114.42 152.89,104.68 153.29,115.26 153.69,101.01 154.09,117.64 154.49,105.22 154.89,115.47 155.29,104.23 155.69,115.83 156.09,105.05 156.49,114.09 156.90,95.20 157.30,122.58 157.70,103.47 158.10,118.06 158.50,103.15 158.90,114.59 159.30,99.93 159.70,118.56 160.10,105.38 160.50,118.23 160.90,101.30 161.30,117.39 161.71,104.16 162.11,114.97 162.51,105.08 162.91,115.27 163.31,105.39 163.71,115.77 164.11,105.09 164.51,116.46 164.91,104.51 165.31,115.79 165.71,93.91 166.11,123.68 166.52,105.60 166.92,115.87 167.32,105.01 167.72,114.55 168.12,105.45 168.52,114.46 168.92,103.76 169.32,115.31 169.72,93.92 170.12,123.67 170.52,104.32 170.92,114.83 171.33,104.70 171.73,116.29 172.13,103.54 172.53,115.94 172.93,102.23 173.33,117.26 173.73,100.60 174.13,120.71 174.53,100.90 174.93,117.95 175.33,98.03 175.73,120.18 176.14,103.85 176.54,115.23 176.94,98.33 177.34,119.92 177.74,103.18 178.14,118.82 178.54,102.50 178.94,115.76 179.34,103.67 179.74,115.98 180.14,103.84 180.54,116.79 180.95,103.33 181.35,116.46 181.75,103.69 182.15,120.08 182.55,101.43 182.95,119.93 183.35,101.56 183.75,116.28 184.15,103.80 184.55,120.69 184.95,100.92 185.35,115.80 185.76,105.07 186.16,116.48 186.56,104.21 186.96,115.44 187.36,104.20 187.76,116.19 188.16,104.56 188.56,116.43 188.96,85.99 189.36,130.41 189.76,97.59 190.16,118.75 190.57,98.88 190.97,119.45 191.37,96.44 191.77,121.53 192.17,103.44 192.57,115.58 192.97,105.31 193.37,132.93 193.77,90.51 194.17,119.02 194.57,104.27 194.97,118.42 195.38,102.84 195.78,115.18 196.18,103.57 196.58,125.87 196.98,96.51 197.38,120.42 197.78,103.12 198.18,114.86 198.58,102.53 198.98,116.35 199.38,104.10 199.78,119.10 200.18,102.27 200.59,116.45 200.99,103.79 201.39,126.28 201.79,96.16 202.19,117.17 202.59,103.91 202.99,116.76 203.39,104.25 203.79,115.65 204.19,105.19 204.59,114.58 204.99,103.99 205.40,115.21 205.80,75.00 206.20,134.00 206.60,88.00 207.00,124.00 207.40,94.67 207.80,117.20 208.20,99.54 208.60,127.23 209.00,93.88 209.40,123.70 209.80,101.62 210.21,117.50 210.61,103.63 211.01,125.27 211.41,97.02 211.81,117.89 212.21,103.29 212.61,128.75 213.01,94.06 213.41,116.36 213.81,98.45 214.21,119.82 214.61,103.87 215.02,115.60 215.42,99.16 215.82,119.22 216.22,104.75 216.62,118.95 217.02,102.39 217.42,116.48 217.82,103.58 218.22,116.22 218.62,96.73 219.02,121.28 219.42,104.08 219.83,117.08 220.23,103.98 220.63,114.70 221.03,104.06 221.43,115.05 221.83,103.77 222.23,115.52 222.63,105.07 223.03,119.01 223.43,100.31 223.83,118.24 224.23,105.53 224.64,116.16 225.04,104.67 225.44,115.79 225.84,71.00 226.24,137.00 226.64,92.00 227.04,122.00 227.44,99.96 227.84,118.10 228.24,92.81 228.64,124.61 229.04,99.16 229.45,122.68 229.85,99.22 230.25,116.77 230.65,102.67 231.05,117.81 231.45,101.80 231.85,117.44 232.25,103.68 232.65,117.82 233.05,103.35 233.45,116.19 233.85,93.16 234.26,124.31 234.66,103.25 235.06,115.74 235.46,101.83 235.86,116.95 236.26,103.06 236.66,115.90 237.06,100.20 237.46,118.33 237.86,104.17 238.26,114.95 238.66,48.00 239.07,164.00 239.47,62.00 239.87,140.00 240.27,88.00 240.67,135.00 241.07,84.00 241.47,128.00 241.87,98.40 242.27,122.56 242.67,99.14 243.07,121.37 243.47,93.60 243.88,123.94 244.28,90.00 244.68,124.00 245.08,92.44 245.48,121.49 245.88,99.21 246.28,120.44 246.68,100.56 247.08,120.41 247.48,100.66 247.88,118.62 248.28,90.00 248.69,122.00 249.09,95.98 249.49,131.11 249.89,92.06 250.29,119.31 250.69,102.08 251.09,118.02 251.49,100.50 251.89,118.48 252.29,96.00 252.69,120.00 253.09,91.28 253.50,125.91 253.90,102.44 254.30,116.76 254.70,102.97 255.10,116.96 255.50,102.68 255.90,118.95 256.30,102.40 256.70,117.18 257.10,99.71 257.50,118.75 257.90,87.70 258.31,128.95 258.71,99.61 259.11,116.68 259.51,100.51 259.91,118.19 260.31,95.43 260.71,122.39 261.11,102.28 261.51,116.56 261.91,103.37 262.31,115.80 262.71,99.31 263.12,119.08 263.52,102.68 263.92,116.36 264.32,102.92 264.72,120.95 265.12,100.70 265.52,116.40 265.92,103.51 266.32,115.76 266.72,103.31 267.12,116.82 267.52,104.21 267.92,120.13 268.33,101.39 268.73,115.90 269.13,104.99 269.53,122.27 269.93,99.57 270.33,116.26 270.73,104.40 271.13,116.19 271.53,97.55 271.93,120.58 272.33,102.37 272.73,124.78 273.14,97.44 273.54,119.72 273.94,101.74 274.34,115.25 274.74,104.88 275.14,114.68 275.54,103.11 275.94,116.23 276.34,103.93 276.74,115.16 277.14,105.24 277.54,115.15 277.95,103.87 278.35,115.49 278.75,103.57 279.15,118.48 279.55,102.80 279.95,116.04 280.35,104.01 280.75,115.09 281.15,105.11 281.55,117.59 281.95,103.55 282.35,115.75 282.76,101.73 283.16,117.03 283.56,96.65 283.96,121.34 284.36,100.87 284.76,117.76 285.16,98.81 285.56,119.51 285.96,105.39 286.36,114.57 286.76,104.79 287.16,114.43 287.57,94.92 287.97,122.82 288.37,105.25 288.77,115.83 289.17,105.04 289.57,121.18 289.97,98.80 290.37,119.52 290.77,104.16 291.17,119.14 291.57,102.23 291.97,115.97 292.38,97.92 292.78,120.27 293.18,104.52 293.58,115.34 293.98,103.89 294.38,115.19 294.78,98.97 295.18,119.38 295.58,104.98 295.98,117.71 296.38,103.45 296.78,115.77 297.19,104.07 297.59,116.08 297.99,104.69 298.39,115.41 298.79,104.57 299.19,115.21 299.59,103.16 299.99,115.81 300.39,105.28 300.79,115.08 301.19,105.68 301.59,124.43 302.00,97.73 302.40,117.58 302.80,103.55 303.20,116.81 303.60,104.22 304.00,114.17 304.40,104.66 304.80,114.53 305.20,105.38 305.60,114.91 306.00,104.13 306.40,114.99 306.81,98.86 307.21,119.47 307.61,104.29 308.01,115.18 308.41,104.30 308.81,115.56 309.21,105.27 309.61,114.27 310.01,101.63 310.41,117.12 310.81,105.45 311.21,115.82 311.62,104.15 312.02,114.97 312.42,104.62 312.82,114.57 313.22,104.40 313.62,114.76 314.02,105.00 314.42,117.88 314.82,103.30 315.22,116.45 315.62,104.52 316.02,114.51 316.43,104.52 316.83,115.17 317.23,105.42 317.63,115.21 318.03,105.14 318.43,115.67 318.83,105.18 319.23,115.46 319.63,104.79 320.03,120.07 320.43,100.37 320.83,118.19 321.24,102.70 321.64,116.21 322.04,105.79 322.44,117.14 322.84,102.74 323.24,116.17 323.64,101.82 324.04,116.95 324.44,104.12 324.84,115.64 325.24,105.17 325.64,114.88 326.05,101.65 326.45,117.10 326.85,105.62 327.25,114.61 327.65,105.72 328.05,114.07 328.45,105.14 328.85,114.36 329.25,103.14 329.65,117.33 330.05,103.77 330.45,115.07 330.86,105.06 331.26,114.20 331.66,105.82 332.06,117.55 332.46,103.58 332.86,115.52 333.26,105.31 333.66,115.11 334.06,104.36 334.46,115.64 334.86,105.21 335.26,114.96 335.66,105.34 336.07,115.43 336.47,105.39 336.87,114.45 337.27,102.00 337.67,116.80 338.07,104.57 338.47,115.84 338.87,105.04 339.27,114.55 339.67,104.75 340.07,114.47 340.47,105.91 340.88,115.05 341.28,99.84 341.68,118.64 342.08,104.80 342.48,114.56 342.88,104.95 343.28,115.41 343.68,98.58 344.08,119.71 344.48,104.99 344.88,114.32 345.28,104.93 345.69,114.89 346.09,105.33 346.49,115.14 346.89,104.47 347.29,114.70 347.69,105.00 348.09,115.37 348.49,105.28 348.89,114.46 349.29,103.66 349.69,120.84 350.09,100.79 350.50,118.32 350.90,102.92 351.30,118.06 351.70,103.15 352.10,123.89 352.50,98.19 352.90,114.27 353.30,102.73 353.70,116.18 354.10,105.15 354.50,114.58 354.90,105.70 355.31,114.85 355.71,98.44 356.11,119.83 356.51,105.74 356.91,114.88 357.31,100.40 357.71,118.16 358.11,105.22 358.51,114.20 358.91,105.38 359.31,118.04 359.71,103.17 360.12,114.59 360.52,104.49 360.92,114.68 361.32,104.54 361.72,114.64 362.12,104.37 362.52,114.79 362.92,105.18 363.32,115.22 363.72,100.16 364.12,118.36 364.52,105.80 364.93,115.90 365.33,104.99 365.73,114.35 366.13,105.74 366.53,114.83 366.93,105.38 367.33,116.41 367.73,102.76 368.13,116.15 368.53,105.43 368.93,115.40 369.33,104.95 369.74,114.71 370.14,104.60 370.54,114.72 370.94,104.34 371.34,115.72 371.74,104.13 372.14,115.51 372.54,105.31 372.94,114.19 373.34,105.22 373.74,115.10 374.14,104.24 374.55,114.89 374.95,104.68 375.35,114.85 375.75,105.82 376.15,117.28 376.55,103.81 376.95,114.49 377.35,100.34 377.75,118.21 378.15,105.90 378.55,114.57 378.95,104.24 379.36,114.90 379.76,104.28 380.16,115.12 380.56,102.59 380.96,116.29 381.36,105.18 381.76,115.03 382.16,104.14 382.56,121.42 382.96,100.30 383.36,114.99 383.76,104.49 384.17,114.73 384.57,104.54 384.97,115.67 385.37,101.05 385.77,117.60 386.17,105.19 386.57,117.64 386.97,103.51 387.37,118.50 387.77,102.78 388.17,114.90 388.57,105.34 388.98,115.40 389.38,105.16 389.78,114.80 390.18,104.71 390.58,117.18 390.98,103.90 391.38,114.04 391.78,104.60 392.18,115.03 392.58,103.75 392.98,115.49 393.38,105.33 393.79,114.38 394.19,105.53 394.59,114.52 394.99,96.68 395.39,121.33 395.79,105.45 396.19,115.17 396.59,104.78 396.99,114.97 397.39,103.22 397.79,115.77 398.19,102.08 398.60,116.73 399.00,104.70 399.40,114.71 399.80,104.95 400.20,114.42 400.60,105.40 401.00,115.12" fill="none" stroke="#000" stroke-width="0.8" stroke-linejoin="bevel"/>
<rect x="61.8" y="42.3" width="339.7" height="127.7" fill="none" stroke="#333" stroke-width="1.3"/>
<line x1="95.77" y1="170.0" x2="95.77" y2="173.5" stroke="#333" stroke-width="1"/>
<line x1="163.71" y1="170.0" x2="163.71" y2="173.5" stroke="#333" stroke-width="1"/>
<line x1="231.65" y1="170.0" x2="231.65" y2="173.5" stroke="#333" stroke-width="1"/>
<line x1="299.59" y1="170.0" x2="299.59" y2="173.5" stroke="#333" stroke-width="1"/>
<line x1="367.53" y1="170.0" x2="367.53" y2="173.5" stroke="#333" stroke-width="1"/>
<line x1="58.3" y1="56.80" x2="61.8" y2="56.80" stroke="#333" stroke-width="1"/>
<text x="54.5" y="61.8" font-family="'Liberation Sans', sans-serif" font-size="14.3" font-weight="normal" font-style="normal" text-anchor="end" fill="#000" >1</text>
<line x1="58.3" y1="110.00" x2="61.8" y2="110.00" stroke="#333" stroke-width="1"/>
<text x="54.5" y="115.0" font-family="'Liberation Sans', sans-serif" font-size="14.3" font-weight="normal" font-style="normal" text-anchor="end" fill="#000" >0</text>
<line x1="58.3" y1="163.20" x2="61.8" y2="163.20" stroke="#333" stroke-width="1"/>
<text x="54.5" y="168.2" font-family="'Liberation Sans', sans-serif" font-size="14.3" font-weight="normal" font-style="normal" text-anchor="end" fill="#000" textLength="20" lengthAdjust="spacingAndGlyphs" >−1</text>
<text x="95.77" y="188.3" font-family="'Liberation Sans', sans-serif" font-size="14.3" font-weight="normal" font-style="normal" text-anchor="middle" fill="#000" >6</text>
<text x="163.71" y="188.3" font-family="'Liberation Sans', sans-serif" font-size="14.3" font-weight="normal" font-style="normal" text-anchor="middle" fill="#000" >8</text>
<text x="231.65" y="188.3" font-family="'Liberation Sans', sans-serif" font-size="14.3" font-weight="normal" font-style="normal" text-anchor="middle" fill="#000" >10</text>
<text x="299.59" y="188.3" font-family="'Liberation Sans', sans-serif" font-size="14.3" font-weight="normal" font-style="normal" text-anchor="middle" fill="#000" >12</text>
<text x="367.53" y="188.3" font-family="'Liberation Sans', sans-serif" font-size="14.3" font-weight="normal" font-style="normal" text-anchor="middle" fill="#000" >14</text>
<text x="173.8" y="187.3" font-family="'Liberation Sans', sans-serif" font-size="10.5" font-weight="bold" font-style="normal" text-anchor="middle" fill="#000" >8</text>
<text x="62.3" y="40.0" font-family="'Liberation Sans', sans-serif" font-size="14.3" font-weight="normal" font-style="normal" text-anchor="start" fill="#000" textLength="36.2" lengthAdjust="spacingAndGlyphs" >1e−7</text>
<text x="202.5" y="202.8" font-family="'Liberation Sans', sans-serif" font-size="14.3" font-weight="normal" font-style="normal" text-anchor="start" fill="#000" textLength="61" lengthAdjust="spacingAndGlyphs" >Time (s)</text>
<text transform="translate(26.3,170.3) rotate(-90)" font-family="Liberation Sans, sans-serif" font-size="14.3" textLength="130" lengthAdjust="spacingAndGlyphs">Amplitude (<tspan font-style="italic">m s</tspan><tspan font-size="10" dy="-5">−1</tspan><tspan dy="5">)</tspan></text>
<polyline points="62.50,344.05 63.00,351.72 63.50,350.41 64.00,348.35 64.50,347.94 65.00,346.97 65.50,345.79 66.00,346.49 66.50,343.57 67.00,345.86 67.50,349.53 68.00,352.99 68.50,356.65 69.00,357.72 69.50,358.94 70.00,357.03 70.50,354.69 71.00,352.50 71.50,348.14 72.00,346.78 72.50,345.74 73.00,346.81 73.50,345.69 74.00,344.41 74.50,348.51 75.00,356.23 75.50,353.73 76.00,352.31 76.50,349.77 77.00,347.19 77.50,346.91 78.00,343.84 78.50,342.72 79.00,342.15 79.50,340.30 80.00,343.40 80.50,346.78 81.00,349.77 81.50,352.79 82.00,356.01 82.50,358.03 83.00,357.72 83.50,357.02 84.00,355.50 84.50,353.60 85.00,350.57 85.50,348.97 86.00,346.95 86.50,345.00 87.00,342.65 87.50,345.06 88.00,346.41 88.50,348.82 89.00,349.45 89.50,350.14 90.00,351.92 90.50,355.08 91.00,357.74 91.50,361.77 92.00,359.86 92.50,358.60 93.00,357.55 93.50,357.16 94.00,357.30 94.50,357.43 95.00,358.19 95.50,358.42 96.00,358.13 96.50,359.47 97.00,359.23 97.50,359.92 98.00,359.98 98.50,359.55 99.00,360.33 99.50,359.19 100.00,357.70 100.50,357.33 101.00,355.06 101.50,353.48 102.00,350.52 102.50,350.57 103.00,349.36 103.50,348.86 104.00,348.44 104.50,349.27 105.00,349.98 105.50,351.93 106.00,353.18 106.50,355.85 107.00,358.99 107.50,359.04 108.00,356.51 108.50,355.53 109.00,352.90 109.50,349.62 110.00,347.18 110.50,343.04 111.00,338.04 111.50,338.00 112.00,339.04 112.50,337.33 113.00,340.86 113.50,343.79 114.00,346.51 114.50,340.17 115.00,338.11 115.50,338.82 116.00,339.61 116.50,340.35 117.00,342.36 117.50,345.59 118.00,346.49 118.50,345.66 119.00,344.72 119.50,345.44 120.00,346.30 120.50,347.63 121.00,348.83 121.50,352.70 122.00,355.82 122.50,356.75 123.00,356.84 123.50,356.26 124.00,355.39 124.50,354.92 125.00,353.27 125.50,353.05 126.00,352.45 126.50,353.63 127.00,355.24 127.50,355.47 128.00,357.84 128.50,361.12 129.00,363.69 129.50,361.93 130.00,358.76 130.50,355.59 131.00,354.35 131.50,351.60 132.00,349.33 132.50,350.92 133.00,349.64 133.50,349.58 134.00,351.26 134.50,353.58 135.00,354.64 135.50,356.56 136.00,357.05 136.50,358.35 137.00,356.62 137.50,353.64 138.00,350.21 138.50,347.83 139.00,345.56 139.50,342.95 140.00,344.95 140.50,345.55 141.00,346.50 141.50,349.95 142.00,353.75 142.50,356.96 143.00,355.02 143.50,352.11 144.00,350.82 144.50,349.53 145.00,346.26 145.50,346.94 146.00,347.90 146.50,348.43 147.00,348.03 147.50,346.77 148.00,347.47 148.50,347.22 149.00,347.88 149.50,348.99 150.00,348.11 150.50,348.11 151.00,348.66 151.50,348.35 152.00,349.07 152.50,349.10 153.00,350.71 153.50,352.02 154.00,353.76 154.50,353.01 155.00,352.70 155.50,352.40 156.00,348.79 156.50,345.36 157.00,342.14 157.50,343.45 158.00,343.78 158.50,344.72 159.00,350.98 159.50,356.60 160.00,363.29 160.50,356.34 161.00,352.02 161.50,345.53 162.00,344.40 162.50,343.47 163.00,343.67 163.50,341.15 164.00,340.14 164.50,339.34 165.00,340.79 165.50,342.28 166.00,344.67 166.50,342.78 167.00,342.37 167.50,341.03 168.00,341.62 168.50,342.96 169.00,343.05 169.50,344.85 170.00,344.24 170.50,345.90 171.00,348.01 171.50,352.28 172.00,354.96 172.50,355.65 173.00,357.07 173.50,358.04 174.00,353.16 174.50,350.27 175.00,345.39 175.50,346.56 176.00,347.42 176.50,348.28 177.00,352.20 177.50,358.74 178.00,363.25 178.50,363.56 179.00,364.04 179.50,364.47 180.00,360.87 180.50,357.98 181.00,353.82 181.50,347.47 182.00,341.74 182.50,336.70 183.00,335.10 183.50,334.23 184.00,334.36 184.50,335.71 185.00,337.28 185.50,338.76 186.00,347.34 186.50,349.95 187.00,346.26 187.50,342.38 188.00,339.90 188.50,338.51 189.00,341.11 189.50,343.86 190.00,346.07 190.50,351.05 191.00,357.29 191.50,362.54 192.00,357.18 192.50,351.85 193.00,345.93 193.50,343.99 194.00,342.44 194.50,340.55 195.00,340.71 195.50,341.72 196.00,341.92 196.50,346.06 197.00,351.04 197.50,356.35 198.00,355.70 198.50,357.02 199.00,357.62 199.50,357.92 200.00,357.13 200.50,358.66 201.00,359.31 201.50,360.64 202.00,362.04 202.50,343.91 203.00,327.95 203.50,314.91 204.00,313.06 204.50,310.42 205.00,309.30 205.50,312.62 206.00,319.89 206.50,332.03 207.00,337.56 207.50,345.03 208.00,351.21 208.50,351.29 209.00,349.43 209.50,349.60 210.00,350.38 210.50,350.79 211.00,352.19 211.50,355.02 212.00,356.30 212.50,358.18 213.00,360.40 213.50,361.95 214.00,363.42 214.50,358.87 215.00,355.44 215.50,352.21 216.00,351.20 216.50,350.91 217.00,351.38 217.50,352.71 218.00,352.49 218.50,352.85 219.00,356.87 219.50,360.57 220.00,364.45 220.50,367.29 221.00,369.45 221.50,371.64 222.00,366.02 222.50,355.46 223.00,341.92 223.50,334.15 224.00,328.15 224.50,319.86 225.00,318.62 225.50,318.05 226.00,317.91 226.50,330.36 227.00,343.78 227.50,356.70 228.00,361.43 228.50,363.41 229.00,364.44 229.50,365.39 230.00,366.13 230.50,367.30 231.00,367.90 231.50,369.17 232.00,368.21 232.50,367.97 233.00,366.61 233.50,364.56 234.00,360.80 234.50,353.40 235.00,339.32 235.50,318.61 236.00,293.07 236.50,275.42 237.00,270.27 237.50,269.68 238.00,268.05 238.50,274.57 239.00,294.02 239.50,322.92 240.00,347.85 240.50,351.25 241.00,354.14 241.50,356.62 242.00,360.77 242.50,361.86 243.00,362.25 243.50,363.41 244.00,363.46 244.50,362.96 245.00,363.24 245.50,362.76 246.00,363.46 246.50,363.23 247.00,365.29 247.50,364.39 248.00,366.05 248.50,366.12 249.00,367.06 249.50,368.41 250.00,369.11 250.50,369.27 251.00,369.79 251.50,369.16 252.00,369.39 252.50,368.39 253.00,368.65 253.50,368.06 254.00,367.45 254.50,367.20 255.00,366.72 255.50,366.33 256.00,364.92 256.50,362.01 257.00,359.40 257.50,359.33 258.00,359.23 258.50,360.72 259.00,362.95 259.50,362.53 260.00,364.94 260.50,366.05 261.00,364.50 261.50,365.91 262.00,363.58 262.50,365.89 263.00,366.45 263.50,366.91 264.00,367.40 264.50,368.66 265.00,367.58 265.50,366.35 266.00,363.48 266.50,362.62 267.00,362.69 267.50,361.24 268.00,359.82 268.50,357.06 269.00,353.38 269.50,352.52 270.00,351.14 270.50,349.31 271.00,350.73 271.50,352.91 272.00,355.46 272.50,357.79 273.00,358.93 273.50,361.19 274.00,359.66 274.50,357.42 275.00,353.96 275.50,351.37 276.00,347.74 276.50,346.26 277.00,344.47 277.50,343.75 278.00,343.42 278.50,343.45 279.00,342.59 279.50,345.12 280.00,347.92 280.50,351.19 281.00,354.50 281.50,358.67 282.00,361.92 282.50,360.62 283.00,360.18 283.50,360.59 284.00,357.12 284.50,353.87 285.00,351.52 285.50,349.82 286.00,348.86 286.50,347.80 287.00,349.12 287.50,352.40 288.00,353.47 288.50,357.26 289.00,360.68 289.50,364.80 290.00,360.94 290.50,357.48 291.00,353.22 291.50,351.44 292.00,348.32 292.50,346.63 293.00,346.66 293.50,346.49 294.00,347.43 294.50,348.75 295.00,350.78 295.50,352.56 296.00,351.91 296.50,351.93 297.00,351.50 297.50,351.42 298.00,353.48 298.50,354.25 299.00,358.46 299.50,362.23 300.00,365.41 300.50,361.94 301.00,359.79 301.50,355.61 302.00,354.35 302.50,354.65 303.00,353.84 303.50,353.67 304.00,353.97 304.50,354.77 305.00,354.61 305.50,353.47 306.00,352.40 306.50,354.64 307.00,356.78 307.50,357.55 308.00,358.86 308.50,359.13 309.00,359.43 309.50,358.74 310.00,357.93 310.50,356.88 311.00,357.35 311.50,358.79 312.00,360.87 312.50,355.50 313.00,351.23 313.50,348.12 314.00,347.27 314.50,346.21 315.00,344.49 315.50,345.95 316.00,345.64 316.50,345.99 317.00,348.22 317.50,350.45 318.00,352.82 318.50,354.78 319.00,356.49 319.50,358.92 320.00,359.28 320.50,360.40 321.00,360.11 321.50,357.29 322.00,355.59 322.50,351.87 323.00,351.36 323.50,350.45 324.00,349.27 324.50,341.16 325.00,333.86 325.50,326.15 326.00,323.83 326.50,326.25 327.00,327.02 327.50,331.37 328.00,336.08 328.50,342.62 329.00,348.40 329.50,354.54 330.00,358.41 330.50,357.25 331.00,355.57 331.50,354.29 332.00,352.30 332.50,351.02 333.00,349.19 333.50,347.95 334.00,346.93 334.50,347.72 335.00,349.40 335.50,353.21 336.00,355.44 336.50,357.88 337.00,359.99 337.50,358.16 338.00,357.72 338.50,356.74 339.00,356.36 339.50,355.82 340.00,354.99 340.50,354.76 341.00,355.16 341.50,353.49 342.00,355.53 342.50,356.70 343.00,357.40 343.50,359.01 344.00,362.35 344.50,360.70 345.00,359.05 345.50,355.60 346.00,353.53 346.50,352.71 347.00,351.78 347.50,350.77 348.00,348.94 348.50,347.31 349.00,346.07 349.50,345.60 350.00,344.36 350.50,342.33 351.00,341.06 351.50,341.03 352.00,341.53 352.50,342.58 353.00,343.57 353.50,345.14 354.00,346.70 354.50,350.46 355.00,353.52 355.50,357.92 356.00,353.95 356.50,352.42 357.00,348.43 357.50,345.21 358.00,341.76 358.50,337.72 359.00,337.99 359.50,337.20 360.00,339.13 360.50,340.14 361.00,344.37 361.50,346.40 362.00,349.84 362.50,350.36 363.00,352.57 363.50,353.35 364.00,355.31 364.50,357.05 365.00,358.49 365.50,359.16 366.00,356.55 366.50,354.00 367.00,351.94 367.50,349.98 368.00,347.48 368.50,345.38 369.00,344.37 369.50,344.60 370.00,345.08 370.50,347.31 371.00,349.57 371.50,351.77 372.00,353.27 372.50,354.60 373.00,353.41 373.50,351.20 374.00,346.83 374.50,345.23 375.00,345.92 375.50,347.18 376.00,349.59 376.50,352.10 377.00,354.17 377.50,355.77 378.00,356.11 378.50,356.25 379.00,356.57 379.50,354.15 380.00,353.10 380.50,350.40 381.00,350.18 381.50,350.14 382.00,349.64 382.50,349.63 383.00,350.32 383.50,352.06 384.00,354.17 384.50,355.97 385.00,357.70 385.50,358.20 386.00,358.40 386.50,357.75 387.00,356.12 387.50,354.98 388.00,352.89 388.50,349.50 389.00,346.68 389.50,343.71 390.00,340.97 390.50,338.90 391.00,338.85 391.50,339.20 392.00,340.22 392.50,341.68 393.00,345.79 393.50,349.75 394.00,352.21 394.50,352.99 395.00,354.68 395.50,355.81 396.00,355.81 396.50,356.96 397.00,358.47 397.50,359.80 398.00,362.90 398.50,361.34 399.00,358.38 399.50,355.36 400.00,353.22 400.50,352.83" fill="none" stroke="#000" stroke-width="1.3" stroke-linejoin="round"/>
<line x1="228.1" y1="256.3" x2="228.1" y2="384.2" stroke="#5cbdec" stroke-width="1.8"/>
<line x1="248.4" y1="256.3" x2="248.4" y2="384.2" stroke="#5cbdec" stroke-width="1.8"/>
<rect x="61.8" y="256.3" width="339.7" height="127.89999999999998" fill="none" stroke="#333" stroke-width="1.3"/>
<line x1="95.77" y1="384.2" x2="95.77" y2="387.7" stroke="#333" stroke-width="1"/>
<line x1="163.71" y1="384.2" x2="163.71" y2="387.7" stroke="#333" stroke-width="1"/>
<line x1="231.65" y1="384.2" x2="231.65" y2="387.7" stroke="#333" stroke-width="1"/>
<line x1="299.59" y1="384.2" x2="299.59" y2="387.7" stroke="#333" stroke-width="1"/>
<line x1="367.53" y1="384.2" x2="367.53" y2="387.7" stroke="#333" stroke-width="1"/>
<line x1="58.3" y1="384.20" x2="61.8" y2="384.20" stroke="#333" stroke-width="1"/>
<text x="54.5" y="389.2" font-family="'Liberation Sans', sans-serif" font-size="14.3" font-weight="normal" font-style="normal" text-anchor="end" fill="#000" >0</text>
<line x1="58.3" y1="351.50" x2="61.8" y2="351.50" stroke="#333" stroke-width="1"/>
<text x="54.5" y="356.5" font-family="'Liberation Sans', sans-serif" font-size="14.3" font-weight="normal" font-style="normal" text-anchor="end" fill="#000" >1</text>
<line x1="58.3" y1="318.80" x2="61.8" y2="318.80" stroke="#333" stroke-width="1"/>
<text x="54.5" y="323.79999999999995" font-family="'Liberation Sans', sans-serif" font-size="14.3" font-weight="normal" font-style="normal" text-anchor="end" fill="#000" >2</text>
<line x1="58.3" y1="286.10" x2="61.8" y2="286.10" stroke="#333" stroke-width="1"/>
<text x="54.5" y="291.09999999999997" font-family="'Liberation Sans', sans-serif" font-size="14.3" font-weight="normal" font-style="normal" text-anchor="end" fill="#000" >3</text>
<text x="95.77" y="402.8" font-family="'Liberation Sans', sans-serif" font-size="14.3" font-weight="normal" font-style="normal" text-anchor="middle" fill="#000" >6</text>
<text x="163.71" y="402.8" font-family="'Liberation Sans', sans-serif" font-size="14.3" font-weight="normal" font-style="normal" text-anchor="middle" fill="#000" >8</text>
<text x="231.65" y="402.8" font-family="'Liberation Sans', sans-serif" font-size="14.3" font-weight="normal" font-style="normal" text-anchor="middle" fill="#000" >10</text>
<text x="299.59" y="402.8" font-family="'Liberation Sans', sans-serif" font-size="14.3" font-weight="normal" font-style="normal" text-anchor="middle" fill="#000" >12</text>
<text x="367.53" y="402.8" font-family="'Liberation Sans', sans-serif" font-size="14.3" font-weight="normal" font-style="normal" text-anchor="middle" fill="#000" >14</text>
<text x="202.7" y="420.7" font-family="'Liberation Sans', sans-serif" font-size="14.3" font-weight="normal" font-style="normal" text-anchor="start" fill="#000" textLength="57.5" lengthAdjust="spacingAndGlyphs" >Time (s)</text>
<text transform="translate(39.2,369.4) rotate(-90)" font-family="Liberation Sans, sans-serif" font-size="14.3" font-style="italic" textLength="99" lengthAdjust="spacingAndGlyphs">STA<tspan font-size="10" dy="3">rms</tspan><tspan dy="-3">/LTA</tspan><tspan font-size="10" dy="3">rms</tspan></text>
<rect x="303" y="263.8" width="87.5" height="54.8" fill="#fff" stroke="#5cbdec" stroke-width="1.8"/>
<polyline points="303.50,310.20 306.00,310.60 309.00,310.40 312.00,310.90 315.00,311.40 318.00,311.60 320.00,312.00 324.20,311.20 326.70,309.50 329.20,308.25 332.10,307.80 333.30,302.00 333.75,293.70 335.40,287.00 336.70,281.20 337.90,277.00 339.20,272.00 340.80,269.50 342.90,270.00 345.00,269.50 346.70,268.70 347.50,273.70 348.30,279.50 349.60,283.70 350.80,291.20 352.10,294.50 353.75,298.70 355.00,304.50 357.50,304.90 360.80,305.30 363.30,307.40 365.80,309.50 370.00,309.30 374.00,309.20 378.00,309.80 382.00,309.60 386.00,309.90 389.00,310.80 390.30,311.80" fill="none" stroke="#111" stroke-width="1.1" stroke-linejoin="round"/>
<polyline points="303.50,318.40 304.37,318.40 305.25,318.40 306.12,318.40 306.99,318.40 307.87,318.39 308.74,318.39 309.62,318.38 310.49,318.37 311.36,318.36 312.24,318.34 313.11,318.31 313.98,318.27 314.86,318.22 315.73,318.15 316.61,318.05 317.48,317.91 318.35,317.73 319.23,317.49 320.10,317.19 320.97,316.80 321.85,316.30 322.72,315.68 323.60,314.92 324.47,314.00 325.34,312.89 326.22,311.59 327.09,310.06 327.96,308.30 328.84,306.31 329.71,304.08 330.59,301.63 331.46,298.98 332.33,296.16 333.21,293.20 334.08,290.17 334.95,287.13 335.83,284.13 336.70,281.27 337.58,278.60 338.45,276.22 339.32,274.18 340.20,272.56 341.07,271.40 341.94,270.75 342.82,270.62 343.69,271.01 344.57,271.92 345.44,273.32 346.31,275.15 347.19,277.37 348.06,279.90 348.93,282.68 349.81,285.62 350.68,288.65 351.56,291.69 352.43,294.69 353.30,297.59 354.18,300.33 355.05,302.88 355.92,305.22 356.80,307.33 357.67,309.21 358.55,310.85 359.42,312.27 360.29,313.47 361.17,314.48 362.04,315.32 362.91,316.01 363.79,316.56 364.66,317.00 365.54,317.35 366.41,317.62 367.28,317.83 368.16,317.98 369.03,318.10 369.90,318.19 370.78,318.25 371.65,318.30 372.53,318.33 373.40,318.35 374.27,318.37 375.15,318.38 376.02,318.39 376.89,318.39 377.77,318.39 378.64,318.40 379.52,318.40 380.39,318.40 381.26,318.40 382.14,318.40 383.01,318.40 383.88,318.40 384.76,318.40 385.63,318.40 386.51,318.40 387.38,318.40 388.25,318.40 389.13,318.40 390.00,318.40" fill="none" stroke="#e8221c" stroke-width="1.2" stroke-dasharray="3.2,2"/>
</svg>
</body></html>
